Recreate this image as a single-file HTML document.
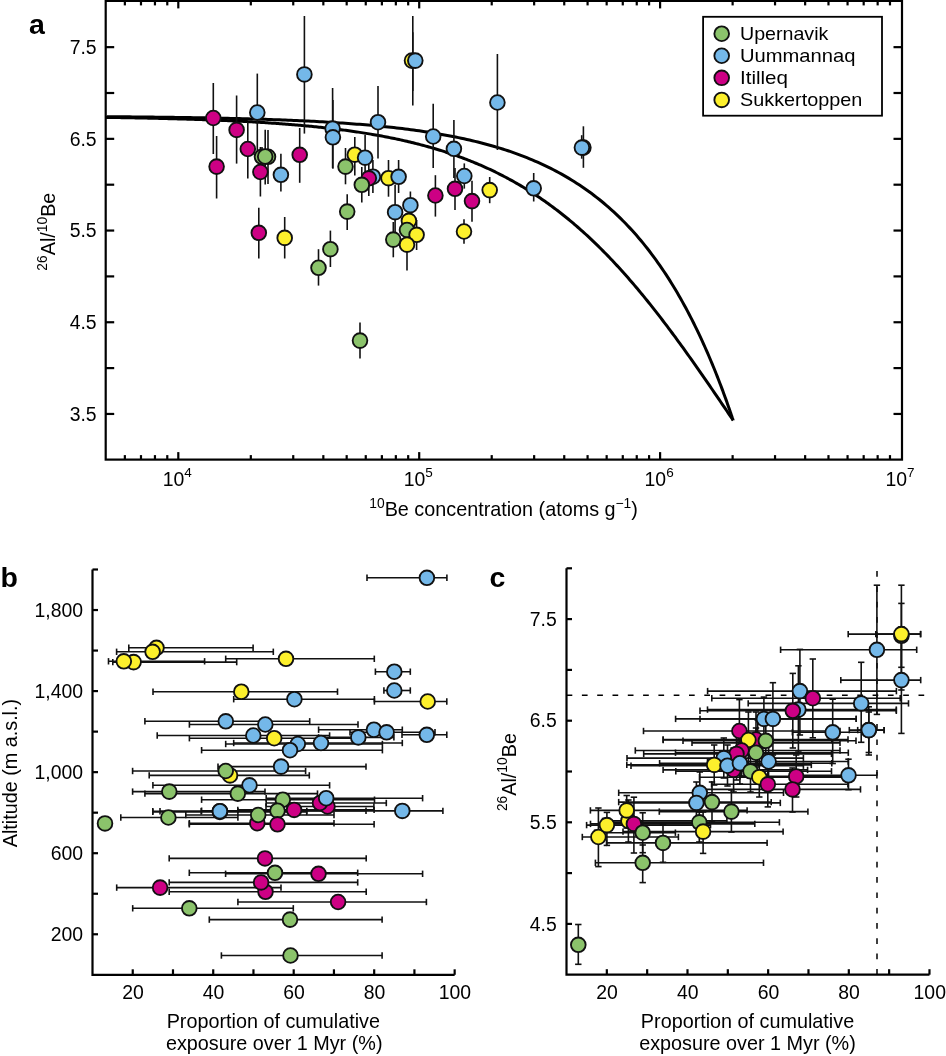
<!DOCTYPE html>
<html><head><meta charset="utf-8"><style>
html,body{margin:0;padding:0;background:#fff;}
svg{display:block;font-family:"Liberation Sans", sans-serif;will-change:transform;}
</style></head><body>
<svg width="946" height="1056" viewBox="0 0 946 1056" fill="#000">
<rect width="946" height="1056" fill="#fff"/>
<path d="M106.67,116.68 L109.56,116.70 L112.44,116.72 L115.33,116.74 L118.22,116.76 L121.10,116.79 L123.99,116.81 L126.88,116.84 L129.76,116.86 L132.65,116.89 L135.53,116.91 L138.42,116.94 L141.31,116.97 L144.19,117.00 L147.08,117.03 L149.96,117.06 L152.85,117.09 L155.73,117.13 L158.62,117.16 L161.50,117.19 L164.39,117.23 L167.27,117.27 L170.16,117.30 L173.04,117.34 L175.92,117.38 L178.81,117.42 L181.69,117.46 L184.57,117.51 L187.46,117.55 L190.34,117.60 L193.22,117.64 L196.11,117.69 L198.99,117.74 L201.87,117.79 L204.75,117.84 L207.63,117.90 L210.51,117.95 L213.39,118.01 L216.28,118.07 L219.16,118.13 L222.04,118.19 L224.92,118.25 L227.79,118.32 L230.67,118.38 L233.55,118.45 L236.43,118.52 L239.31,118.59 L242.19,118.67 L245.06,118.74 L247.94,118.82 L250.82,118.90 L253.69,118.99 L256.57,119.07 L259.44,119.16 L262.32,119.25 L265.19,119.34 L268.07,119.44 L270.94,119.54 L273.81,119.64 L276.69,119.74 L279.56,119.85 L282.43,119.96 L285.30,120.07 L288.17,120.18 L291.04,120.30 L293.91,120.42 L296.78,120.55 L299.65,120.68 L302.52,120.81 L305.38,120.94 L308.25,121.08 L311.11,121.23 L313.98,121.37 L316.84,121.53 L319.71,121.68 L322.57,121.84 L325.43,122.00 L328.29,122.17 L331.15,122.35 L334.01,122.52 L336.87,122.71 L339.73,122.90 L342.58,123.09 L345.44,123.29 L348.29,123.49 L351.15,123.70 L354.00,123.91 L356.85,124.14 L359.70,124.36 L362.55,124.59 L365.40,124.83 L368.24,125.08 L371.09,125.33 L373.93,125.59 L376.78,125.86 L379.62,126.13 L382.46,126.41 L385.30,126.70 L388.13,127.00 L390.97,127.30 L393.80,127.61 L396.64,127.94 L399.47,128.27 L402.30,128.60 L405.13,128.95 L407.95,129.31 L410.78,129.67 L413.60,130.05 L416.42,130.44 L419.24,130.83 L422.05,131.24 L424.87,131.66 L427.68,132.09 L430.49,132.53 L433.30,132.98 L436.11,133.44 L438.91,133.92 L441.71,134.41 L444.51,134.91 L447.30,135.42 L450.10,135.95 L452.89,136.49 L455.68,137.05 L458.46,137.62 L461.24,138.21 L464.02,138.81 L466.80,139.42 L469.57,140.05 L472.34,140.70 L475.11,141.37 L477.87,142.05 L480.63,142.75 L483.38,143.46 L486.14,144.20 L488.88,144.95 L491.63,145.72 L494.37,146.51 L497.10,147.33 L499.84,148.16 L502.56,149.01 L505.29,149.88 L508.00,150.78 L510.72,151.70 L513.43,152.63 L516.13,153.60 L518.83,154.58 L521.52,155.59 L524.21,156.63 L526.89,157.69 L529.57,158.77 L532.24,159.88 L534.90,161.01 L537.56,162.18 L540.21,163.37 L542.86,164.58 L545.50,165.83 L548.13,167.10 L550.76,168.41 L553.37,169.74 L555.99,171.10 L558.59,172.50 L561.18,173.92 L563.77,175.38 L566.35,176.86 L568.92,178.38 L571.48,179.94 L574.04,181.52 L576.58,183.14 L579.12,184.79 L581.64,186.48 L584.16,188.20 L586.66,189.96 L589.16,191.76 L591.65,193.58 L594.12,195.45 L596.58,197.35 L599.04,199.29 L601.48,201.26 L603.90,203.27 L606.32,205.32 L608.73,207.41 L611.12,209.53 L613.49,211.69 L615.86,213.89 L618.21,216.13 L620.55,218.40 L622.87,220.71 L625.18,223.06 L627.47,225.45 L629.75,227.87 L632.01,230.33 L634.26,232.83 L636.49,235.36 L638.70,237.92 L640.89,240.53 L643.07,243.16 L645.23,245.83 L647.37,248.54 L649.50,251.27 L651.60,254.04 L653.68,256.84 L655.75,259.66 L657.79,262.52 L659.81,265.40 L661.82,268.31 L663.80,271.24 L665.75,274.20 L667.69,277.18 L669.60,280.18 L671.49,283.20 L673.36,286.24 L675.20,289.29 L677.01,292.35 L678.81,295.43 L680.57,298.51 L682.31,301.61 L684.03,304.70 L685.71,307.81 L687.37,310.91 L689.00,314.01 L690.61,317.10 L692.18,320.19 L693.73,323.27 L695.25,326.34 L696.74,329.39 L698.19,332.43 L699.62,335.44 L701.02,338.43 L702.39,341.40 L703.72,344.34 L705.03,347.25 L706.30,350.12 L707.54,352.96 L708.75,355.75 L709.92,358.51 L711.07,361.22 L712.18,363.88 L713.25,366.49 L714.30,369.05 L715.31,371.56 L716.29,374.00 L717.24,376.39 L718.15,378.72 L719.03,380.99 L719.88,383.19 L720.69,385.32 L721.48,387.39 L722.23,389.38 L722.95,391.31 L723.63,393.17 L724.29,394.95 L724.92,396.67 L725.51,398.31 L726.08,399.87 L726.61,401.37 L727.12,402.79 L727.60,404.15 L728.05,405.43 L728.48,406.64 L728.88,407.78 L729.25,408.86 L729.60,409.87 L729.93,410.81 L730.23,411.69 L730.52,412.51 L730.78,413.28 L731.02,413.98 L731.24,414.63 L731.44,415.23 L731.63,415.79 L731.80,416.29 L731.96,416.75 L732.10,417.16 L732.22,417.54 L732.34,417.88 L732.44,418.19 L732.53,418.46 L732.61,418.71 L732.69,418.92 L732.75,419.12 L732.81,419.28 L732.86,419.43 L732.90,419.56 L732.94,419.67 L732.97,419.77 L733.00,419.86 L733.02,419.93 L733.04,419.99 L733.06,420.04 L733.07,420.08 L733.09,420.12 L733.10,420.15 L733.11,420.18 L733.11,420.20 L733.12,420.21 L733.12,420.23 L733.13,420.24 L733.13,420.25 L733.13,420.26 L733.13,420.26 L733.14,420.27 L733.14,420.27 L733.14,420.27 L733.14,420.27 L733.14,420.28 L733.14,420.28 L733.14,420.28 L733.14,420.28 L733.14,420.28 L733.14,420.28 L733.14,420.28 L733.14,420.28 L733.14,420.28 L733.14,420.28 L733.14,420.28 L733.14,420.28 L733.14,420.28 L733.14,420.28 L733.14,420.28 L733.14,420.28 L733.14,420.28 L733.14,420.28 L733.14,420.28 L733.14,420.28 L733.14,420.28 L733.14,420.28" fill="none" stroke="#000" stroke-width="3.0"/>
<path d="M105.78,117.41 L107.35,117.43 L108.92,117.46 L110.49,117.48 L112.06,117.50 L113.62,117.53 L115.19,117.55 L116.76,117.57 L118.33,117.60 L119.90,117.62 L121.47,117.65 L123.03,117.68 L124.60,117.70 L126.17,117.73 L127.74,117.76 L129.31,117.78 L130.88,117.81 L132.44,117.84 L134.01,117.87 L135.58,117.90 L137.15,117.93 L138.72,117.96 L140.29,117.99 L141.85,118.02 L143.42,118.05 L144.99,118.08 L146.56,118.12 L148.13,118.15 L149.70,118.18 L151.27,118.22 L152.83,118.25 L154.40,118.29 L155.97,118.32 L157.54,118.36 L159.11,118.39 L160.68,118.43 L162.24,118.47 L163.81,118.51 L165.38,118.55 L166.95,118.59 L168.52,118.63 L170.09,118.67 L171.65,118.71 L173.22,118.75 L174.79,118.79 L176.36,118.84 L177.93,118.88 L179.50,118.92 L181.06,118.97 L182.63,119.01 L184.20,119.06 L185.77,119.11 L187.34,119.16 L188.91,119.20 L190.48,119.25 L192.04,119.30 L193.61,119.35 L195.18,119.41 L196.75,119.46 L198.32,119.51 L199.89,119.57 L201.45,119.62 L203.02,119.68 L204.59,119.73 L206.16,119.79 L207.73,119.85 L209.30,119.91 L210.86,119.97 L212.43,120.03 L214.00,120.09 L215.57,120.15 L217.14,120.21 L218.71,120.28 L220.27,120.34 L221.84,120.41 L223.41,120.48 L224.98,120.54 L226.55,120.61 L228.12,120.68 L229.69,120.76 L231.25,120.83 L232.82,120.90 L234.39,120.98 L235.96,121.05 L237.53,121.13 L239.10,121.21 L240.66,121.29 L242.23,121.37 L243.80,121.45 L245.37,121.53 L246.94,121.61 L248.51,121.70 L250.07,121.78 L251.64,121.87 L253.21,121.96 L254.78,122.05 L256.35,122.14 L257.92,122.24 L259.48,122.33 L261.05,122.43 L262.62,122.52 L264.19,122.62 L265.76,122.72 L267.33,122.82 L268.89,122.93 L270.46,123.03 L272.03,123.14 L273.60,123.24 L275.17,123.35 L276.74,123.46 L278.31,123.58 L279.87,123.69 L281.44,123.81 L283.01,123.92 L284.58,124.04 L286.15,124.17 L287.72,124.29 L289.28,124.41 L290.85,124.54 L292.42,124.67 L293.99,124.80 L295.56,124.93 L297.13,125.06 L298.69,125.20 L300.26,125.34 L301.83,125.48 L303.40,125.62 L304.97,125.76 L306.54,125.91 L308.10,126.06 L309.67,126.21 L311.24,126.36 L312.81,126.52 L314.38,126.67 L315.95,126.83 L317.52,126.99 L319.08,127.16 L320.65,127.33 L322.22,127.49 L323.79,127.67 L325.36,127.84 L326.93,128.02 L328.49,128.20 L330.06,128.38 L331.63,128.56 L333.20,128.75 L334.77,128.94 L336.34,129.13 L337.90,129.32 L339.47,129.52 L341.04,129.72 L342.61,129.93 L344.18,130.13 L345.75,130.34 L347.31,130.56 L348.88,130.77 L350.45,130.99 L352.02,131.21 L353.59,131.44 L355.16,131.67 L356.73,131.90 L358.29,132.13 L359.86,132.37 L361.43,132.61 L363.00,132.86 L364.57,133.11 L366.14,133.36 L367.70,133.61 L369.27,133.87 L370.84,134.14 L372.41,134.40 L373.98,134.67 L375.55,134.95 L377.11,135.23 L378.68,135.51 L380.25,135.80 L381.82,136.09 L383.39,136.38 L384.96,136.68 L386.52,136.98 L388.09,137.29 L389.66,137.60 L391.23,137.92 L392.80,138.24 L394.37,138.56 L395.93,138.89 L397.50,139.22 L399.07,139.56 L400.64,139.91 L402.21,140.25 L403.78,140.61 L405.35,140.96 L406.91,141.33 L408.48,141.69 L410.05,142.07 L411.62,142.45 L413.19,142.83 L414.76,143.22 L416.32,143.61 L417.89,144.01 L419.46,144.41 L421.03,144.83 L422.60,145.24 L424.17,145.66 L425.73,146.09 L427.30,146.52 L428.87,146.96 L430.44,147.41 L432.01,147.86 L433.58,148.31 L435.14,148.78 L436.71,149.25 L438.28,149.72 L439.85,150.21 L441.42,150.69 L442.99,151.19 L444.56,151.69 L446.12,152.20 L447.69,152.72 L449.26,153.24 L450.83,153.77 L452.40,154.30 L453.97,154.85 L455.53,155.40 L457.10,155.95 L458.67,156.52 L460.24,157.09 L461.81,157.67 L463.38,158.26 L464.94,158.85 L466.51,159.46 L468.08,160.07 L469.65,160.69 L471.22,161.31 L472.79,161.95 L474.35,162.59 L475.92,163.24 L477.49,163.90 L479.06,164.57 L480.63,165.24 L482.20,165.93 L483.77,166.62 L485.33,167.32 L486.90,168.03 L488.47,168.75 L490.04,169.48 L491.61,170.22 L493.18,170.97 L494.74,171.72 L496.31,172.49 L497.88,173.27 L499.45,174.05 L501.02,174.84 L502.59,175.65 L504.15,176.46 L505.72,177.29 L507.29,178.12 L508.86,178.96 L510.43,179.82 L512.00,180.68 L513.56,181.56 L515.13,182.44 L516.70,183.34 L518.27,184.24 L519.84,185.16 L521.41,186.09 L522.97,187.02 L524.54,187.97 L526.11,188.93 L527.68,189.90 L529.25,190.89 L530.82,191.88 L532.39,192.88 L533.95,193.90 L535.52,194.93 L537.09,195.97 L538.66,197.02 L540.23,198.08 L541.80,199.15 L543.36,200.24 L544.93,201.34 L546.50,202.45 L548.07,203.57 L549.64,204.70 L551.21,205.85 L552.77,207.01 L554.34,208.18 L555.91,209.36 L557.48,210.56 L559.05,211.76 L560.62,212.98 L562.18,214.22 L563.75,215.46 L565.32,216.72 L566.89,217.99 L568.46,219.28 L570.03,220.57 L571.60,221.88 L573.16,223.21 L574.73,224.54 L576.30,225.89 L577.87,227.25 L579.44,228.63 L581.01,230.02 L582.57,231.42 L584.14,232.83 L585.71,234.26 L587.28,235.70 L588.85,237.16 L590.42,238.63 L591.98,240.11 L593.55,241.60 L595.12,243.11 L596.69,244.63 L598.26,246.17 L599.83,247.72 L601.39,249.28 L602.96,250.85 L604.53,252.44 L606.10,254.04 L607.67,255.66 L609.24,257.29 L610.81,258.93 L612.37,260.59 L613.94,262.25 L615.51,263.94 L617.08,265.63 L618.65,267.34 L620.22,269.06 L621.78,270.79 L623.35,272.54 L624.92,274.30 L626.49,276.07 L628.06,277.86 L629.63,279.66 L631.19,281.47 L632.76,283.30 L634.33,285.13 L635.90,286.98 L637.47,288.84 L639.04,290.72 L640.60,292.60 L642.17,294.50 L643.74,296.41 L645.31,298.34 L646.88,300.27 L648.45,302.22 L650.01,304.18 L651.58,306.14 L653.15,308.13 L654.72,310.12 L656.29,312.12 L657.86,314.14 L659.43,316.16 L660.99,318.20 L662.56,320.24 L664.13,322.30 L665.70,324.37 L667.27,326.45 L668.84,328.53 L670.40,330.63 L671.97,332.74 L673.54,334.85 L675.11,336.98 L676.68,339.11 L678.25,341.26 L679.81,343.41 L681.38,345.57 L682.95,347.74 L684.52,349.92 L686.09,352.11 L687.66,354.30 L689.22,356.50 L690.79,358.71 L692.36,360.92 L693.93,363.15 L695.50,365.38 L697.07,367.61 L698.64,369.85 L700.20,372.10 L701.77,374.36 L703.34,376.61 L704.91,378.88 L706.48,381.15 L708.05,383.42 L709.61,385.70 L711.18,387.99 L712.75,390.27 L714.32,392.57 L715.89,394.86 L717.46,397.16 L719.02,399.46 L720.59,401.77 L722.16,404.08 L723.73,406.39 L725.30,408.70 L726.87,411.01 L728.43,413.33 L730.00,415.64 L731.57,417.96 L733.14,420.28" fill="none" stroke="#000" stroke-width="3.0"/>
<line x1="213.30" y1="83.00" x2="213.30" y2="154.00" stroke="#111" stroke-width="1.6"/>
<line x1="216.60" y1="136.00" x2="216.60" y2="198.50" stroke="#111" stroke-width="1.6"/>
<line x1="236.60" y1="95.50" x2="236.60" y2="163.60" stroke="#111" stroke-width="1.6"/>
<line x1="257.30" y1="73.60" x2="257.30" y2="151.40" stroke="#111" stroke-width="1.6"/>
<line x1="247.80" y1="122.00" x2="247.80" y2="178.40" stroke="#111" stroke-width="1.6"/>
<line x1="262.00" y1="147.00" x2="262.00" y2="170.00" stroke="#111" stroke-width="1.6"/>
<line x1="268.00" y1="130.00" x2="268.00" y2="184.00" stroke="#111" stroke-width="1.6"/>
<line x1="265.20" y1="129.80" x2="265.20" y2="184.40" stroke="#111" stroke-width="1.6"/>
<line x1="260.40" y1="147.00" x2="260.40" y2="196.50" stroke="#111" stroke-width="1.6"/>
<line x1="280.90" y1="153.80" x2="280.90" y2="191.60" stroke="#111" stroke-width="1.6"/>
<line x1="299.70" y1="128.00" x2="299.70" y2="182.80" stroke="#111" stroke-width="1.6"/>
<line x1="304.40" y1="16.00" x2="304.40" y2="133.60" stroke="#111" stroke-width="1.6"/>
<line x1="332.60" y1="88.00" x2="332.60" y2="168.00" stroke="#111" stroke-width="1.6"/>
<line x1="332.90" y1="100.00" x2="332.90" y2="168.80" stroke="#111" stroke-width="1.6"/>
<line x1="378.00" y1="85.90" x2="378.00" y2="158.40" stroke="#111" stroke-width="1.6"/>
<line x1="345.50" y1="148.00" x2="345.50" y2="184.30" stroke="#111" stroke-width="1.6"/>
<line x1="354.80" y1="137.00" x2="354.80" y2="175.40" stroke="#111" stroke-width="1.6"/>
<line x1="365.10" y1="134.70" x2="365.10" y2="180.00" stroke="#111" stroke-width="1.6"/>
<line x1="372.90" y1="160.00" x2="372.90" y2="193.00" stroke="#111" stroke-width="1.6"/>
<line x1="368.80" y1="160.00" x2="368.80" y2="196.00" stroke="#111" stroke-width="1.6"/>
<line x1="361.80" y1="167.00" x2="361.80" y2="202.60" stroke="#111" stroke-width="1.6"/>
<line x1="388.50" y1="160.00" x2="388.50" y2="196.70" stroke="#111" stroke-width="1.6"/>
<line x1="398.60" y1="160.00" x2="398.60" y2="193.00" stroke="#111" stroke-width="1.6"/>
<line x1="412.80" y1="16.10" x2="412.80" y2="105.60" stroke="#111" stroke-width="1.6"/>
<line x1="412.80" y1="32.20" x2="412.80" y2="90.90" stroke="#111" stroke-width="1.6"/>
<line x1="497.40" y1="54.00" x2="497.40" y2="150.00" stroke="#111" stroke-width="1.6"/>
<line x1="433.20" y1="103.70" x2="433.20" y2="168.00" stroke="#111" stroke-width="1.6"/>
<line x1="453.90" y1="120.00" x2="453.90" y2="178.00" stroke="#111" stroke-width="1.6"/>
<line x1="435.40" y1="175.20" x2="435.40" y2="216.60" stroke="#111" stroke-width="1.6"/>
<line x1="455.00" y1="168.00" x2="455.00" y2="210.00" stroke="#111" stroke-width="1.6"/>
<line x1="464.30" y1="163.40" x2="464.30" y2="188.60" stroke="#111" stroke-width="1.6"/>
<line x1="472.00" y1="180.80" x2="472.00" y2="221.80" stroke="#111" stroke-width="1.6"/>
<line x1="489.70" y1="177.00" x2="489.70" y2="203.20" stroke="#111" stroke-width="1.6"/>
<line x1="464.00" y1="219.20" x2="464.00" y2="243.80" stroke="#111" stroke-width="1.6"/>
<line x1="533.70" y1="173.00" x2="533.70" y2="201.50" stroke="#111" stroke-width="1.6"/>
<line x1="583.40" y1="126.30" x2="583.40" y2="167.80" stroke="#111" stroke-width="1.6"/>
<line x1="581.70" y1="135.20" x2="581.70" y2="158.70" stroke="#111" stroke-width="1.6"/>
<line x1="258.80" y1="207.80" x2="258.80" y2="258.50" stroke="#111" stroke-width="1.6"/>
<line x1="284.70" y1="217.00" x2="284.70" y2="258.50" stroke="#111" stroke-width="1.6"/>
<line x1="318.50" y1="249.20" x2="318.50" y2="285.60" stroke="#111" stroke-width="1.6"/>
<line x1="330.40" y1="230.60" x2="330.40" y2="267.00" stroke="#111" stroke-width="1.6"/>
<line x1="347.20" y1="194.30" x2="347.20" y2="230.00" stroke="#111" stroke-width="1.6"/>
<line x1="395.10" y1="184.80" x2="395.10" y2="232.20" stroke="#111" stroke-width="1.6"/>
<line x1="410.40" y1="191.50" x2="410.40" y2="219.00" stroke="#111" stroke-width="1.6"/>
<line x1="408.90" y1="205.00" x2="408.90" y2="236.00" stroke="#111" stroke-width="1.6"/>
<line x1="407.00" y1="215.00" x2="407.00" y2="245.00" stroke="#111" stroke-width="1.6"/>
<line x1="416.60" y1="220.00" x2="416.60" y2="250.00" stroke="#111" stroke-width="1.6"/>
<line x1="393.30" y1="222.00" x2="393.30" y2="257.30" stroke="#111" stroke-width="1.6"/>
<line x1="407.00" y1="225.00" x2="407.00" y2="270.60" stroke="#111" stroke-width="1.6"/>
<line x1="360.00" y1="322.50" x2="360.00" y2="358.60" stroke="#111" stroke-width="1.6"/>
<circle cx="213.30" cy="118.00" r="7.35" fill="#cd0084" stroke="#111" stroke-width="1.85"/>
<circle cx="216.60" cy="166.60" r="7.35" fill="#cd0084" stroke="#111" stroke-width="1.85"/>
<circle cx="236.60" cy="129.90" r="7.35" fill="#cd0084" stroke="#111" stroke-width="1.85"/>
<circle cx="257.30" cy="112.50" r="7.35" fill="#74b8e9" stroke="#111" stroke-width="1.85"/>
<circle cx="247.80" cy="149.00" r="7.35" fill="#cd0084" stroke="#111" stroke-width="1.85"/>
<circle cx="262.00" cy="156.80" r="7.35" fill="#8bc36b" stroke="#111" stroke-width="1.85"/>
<circle cx="268.00" cy="156.80" r="7.35" fill="#8bc36b" stroke="#111" stroke-width="1.85"/>
<circle cx="265.20" cy="156.50" r="7.35" fill="#8bc36b" stroke="#111" stroke-width="1.85"/>
<circle cx="260.40" cy="172.00" r="7.35" fill="#cd0084" stroke="#111" stroke-width="1.85"/>
<circle cx="280.90" cy="174.80" r="7.35" fill="#74b8e9" stroke="#111" stroke-width="1.85"/>
<circle cx="299.70" cy="154.80" r="7.35" fill="#cd0084" stroke="#111" stroke-width="1.85"/>
<circle cx="304.40" cy="74.40" r="7.35" fill="#74b8e9" stroke="#111" stroke-width="1.85"/>
<circle cx="332.60" cy="128.60" r="7.35" fill="#74b8e9" stroke="#111" stroke-width="1.85"/>
<circle cx="332.90" cy="137.30" r="7.35" fill="#74b8e9" stroke="#111" stroke-width="1.85"/>
<circle cx="378.00" cy="122.20" r="7.35" fill="#74b8e9" stroke="#111" stroke-width="1.85"/>
<circle cx="345.50" cy="166.60" r="7.35" fill="#8bc36b" stroke="#111" stroke-width="1.85"/>
<circle cx="354.80" cy="154.70" r="7.35" fill="#fdf02c" stroke="#111" stroke-width="1.85"/>
<circle cx="365.10" cy="157.70" r="7.35" fill="#74b8e9" stroke="#111" stroke-width="1.85"/>
<circle cx="372.90" cy="176.70" r="7.35" fill="#74b8e9" stroke="#111" stroke-width="1.85"/>
<circle cx="368.80" cy="178.30" r="7.35" fill="#cd0084" stroke="#111" stroke-width="1.85"/>
<circle cx="361.80" cy="184.80" r="7.35" fill="#8bc36b" stroke="#111" stroke-width="1.85"/>
<circle cx="388.50" cy="178.20" r="7.35" fill="#fdf02c" stroke="#111" stroke-width="1.85"/>
<circle cx="398.60" cy="176.80" r="7.35" fill="#74b8e9" stroke="#111" stroke-width="1.85"/>
<circle cx="412.00" cy="60.60" r="7.35" fill="#fdf02c" stroke="#111" stroke-width="1.85"/>
<circle cx="415.30" cy="60.60" r="7.35" fill="#74b8e9" stroke="#111" stroke-width="1.85"/>
<circle cx="497.40" cy="102.50" r="7.35" fill="#74b8e9" stroke="#111" stroke-width="1.85"/>
<circle cx="433.20" cy="136.50" r="7.35" fill="#74b8e9" stroke="#111" stroke-width="1.85"/>
<circle cx="453.90" cy="148.80" r="7.35" fill="#74b8e9" stroke="#111" stroke-width="1.85"/>
<circle cx="435.40" cy="195.50" r="7.35" fill="#cd0084" stroke="#111" stroke-width="1.85"/>
<circle cx="455.00" cy="188.80" r="7.35" fill="#cd0084" stroke="#111" stroke-width="1.85"/>
<circle cx="464.30" cy="176.00" r="7.35" fill="#74b8e9" stroke="#111" stroke-width="1.85"/>
<circle cx="472.00" cy="201.10" r="7.35" fill="#cd0084" stroke="#111" stroke-width="1.85"/>
<circle cx="489.70" cy="190.10" r="7.35" fill="#fdf02c" stroke="#111" stroke-width="1.85"/>
<circle cx="464.00" cy="231.50" r="7.35" fill="#fdf02c" stroke="#111" stroke-width="1.85"/>
<circle cx="533.70" cy="188.30" r="7.35" fill="#74b8e9" stroke="#111" stroke-width="1.85"/>
<circle cx="583.40" cy="147.60" r="7.35" fill="#74b8e9" stroke="#111" stroke-width="1.85"/>
<circle cx="581.90" cy="147.60" r="7.35" fill="#74b8e9" stroke="#111" stroke-width="1.85"/>
<circle cx="258.80" cy="232.80" r="7.35" fill="#cd0084" stroke="#111" stroke-width="1.85"/>
<circle cx="284.70" cy="237.90" r="7.35" fill="#fdf02c" stroke="#111" stroke-width="1.85"/>
<circle cx="318.50" cy="267.80" r="7.35" fill="#8bc36b" stroke="#111" stroke-width="1.85"/>
<circle cx="330.40" cy="249.20" r="7.35" fill="#8bc36b" stroke="#111" stroke-width="1.85"/>
<circle cx="347.20" cy="211.60" r="7.35" fill="#8bc36b" stroke="#111" stroke-width="1.85"/>
<circle cx="395.10" cy="212.20" r="7.35" fill="#74b8e9" stroke="#111" stroke-width="1.85"/>
<circle cx="410.40" cy="205.20" r="7.35" fill="#74b8e9" stroke="#111" stroke-width="1.85"/>
<circle cx="408.90" cy="220.80" r="7.35" fill="#fdf02c" stroke="#111" stroke-width="1.85"/>
<circle cx="407.00" cy="230.00" r="7.35" fill="#8bc36b" stroke="#111" stroke-width="1.85"/>
<circle cx="416.60" cy="234.80" r="7.35" fill="#fdf02c" stroke="#111" stroke-width="1.85"/>
<circle cx="393.30" cy="239.60" r="7.35" fill="#8bc36b" stroke="#111" stroke-width="1.85"/>
<circle cx="407.00" cy="244.70" r="7.35" fill="#fdf02c" stroke="#111" stroke-width="1.85"/>
<circle cx="360.00" cy="340.60" r="7.35" fill="#8bc36b" stroke="#111" stroke-width="1.85"/>
<rect x="105.7" y="0.9" width="796.3" height="458.70000000000005" fill="none" stroke="#000" stroke-width="2.2"/>
<line x1="105.70" y1="413.95" x2="114.20" y2="413.95" stroke="#000" stroke-width="2.2"/>
<line x1="902.00" y1="413.95" x2="893.50" y2="413.95" stroke="#000" stroke-width="2.2"/>
<line x1="105.70" y1="368.10" x2="114.20" y2="368.10" stroke="#000" stroke-width="2.2"/>
<line x1="902.00" y1="368.10" x2="893.50" y2="368.10" stroke="#000" stroke-width="2.2"/>
<line x1="105.70" y1="322.25" x2="114.20" y2="322.25" stroke="#000" stroke-width="2.2"/>
<line x1="902.00" y1="322.25" x2="893.50" y2="322.25" stroke="#000" stroke-width="2.2"/>
<line x1="105.70" y1="276.40" x2="114.20" y2="276.40" stroke="#000" stroke-width="2.2"/>
<line x1="902.00" y1="276.40" x2="893.50" y2="276.40" stroke="#000" stroke-width="2.2"/>
<line x1="105.70" y1="230.55" x2="114.20" y2="230.55" stroke="#000" stroke-width="2.2"/>
<line x1="902.00" y1="230.55" x2="893.50" y2="230.55" stroke="#000" stroke-width="2.2"/>
<line x1="105.70" y1="184.70" x2="114.20" y2="184.70" stroke="#000" stroke-width="2.2"/>
<line x1="902.00" y1="184.70" x2="893.50" y2="184.70" stroke="#000" stroke-width="2.2"/>
<line x1="105.70" y1="138.85" x2="114.20" y2="138.85" stroke="#000" stroke-width="2.2"/>
<line x1="902.00" y1="138.85" x2="893.50" y2="138.85" stroke="#000" stroke-width="2.2"/>
<line x1="105.70" y1="93.00" x2="114.20" y2="93.00" stroke="#000" stroke-width="2.2"/>
<line x1="902.00" y1="93.00" x2="893.50" y2="93.00" stroke="#000" stroke-width="2.2"/>
<line x1="105.70" y1="47.15" x2="114.20" y2="47.15" stroke="#000" stroke-width="2.2"/>
<line x1="902.00" y1="47.15" x2="893.50" y2="47.15" stroke="#000" stroke-width="2.2"/>
<line x1="124.86" y1="459.60" x2="124.86" y2="455.10" stroke="#000" stroke-width="2.2"/>
<line x1="124.86" y1="0.90" x2="124.86" y2="5.40" stroke="#000" stroke-width="2.2"/>
<line x1="140.98" y1="459.60" x2="140.98" y2="455.10" stroke="#000" stroke-width="2.2"/>
<line x1="140.98" y1="0.90" x2="140.98" y2="5.40" stroke="#000" stroke-width="2.2"/>
<line x1="154.95" y1="459.60" x2="154.95" y2="455.10" stroke="#000" stroke-width="2.2"/>
<line x1="154.95" y1="0.90" x2="154.95" y2="5.40" stroke="#000" stroke-width="2.2"/>
<line x1="167.28" y1="459.60" x2="167.28" y2="455.10" stroke="#000" stroke-width="2.2"/>
<line x1="167.28" y1="0.90" x2="167.28" y2="5.40" stroke="#000" stroke-width="2.2"/>
<line x1="178.30" y1="459.60" x2="178.30" y2="452.10" stroke="#000" stroke-width="2.2"/>
<line x1="178.30" y1="0.90" x2="178.30" y2="8.40" stroke="#000" stroke-width="2.2"/>
<line x1="250.82" y1="459.60" x2="250.82" y2="455.10" stroke="#000" stroke-width="2.2"/>
<line x1="250.82" y1="0.90" x2="250.82" y2="5.40" stroke="#000" stroke-width="2.2"/>
<line x1="293.24" y1="459.60" x2="293.24" y2="455.10" stroke="#000" stroke-width="2.2"/>
<line x1="293.24" y1="0.90" x2="293.24" y2="5.40" stroke="#000" stroke-width="2.2"/>
<line x1="323.34" y1="459.60" x2="323.34" y2="455.10" stroke="#000" stroke-width="2.2"/>
<line x1="323.34" y1="0.90" x2="323.34" y2="5.40" stroke="#000" stroke-width="2.2"/>
<line x1="346.68" y1="459.60" x2="346.68" y2="455.10" stroke="#000" stroke-width="2.2"/>
<line x1="346.68" y1="0.90" x2="346.68" y2="5.40" stroke="#000" stroke-width="2.2"/>
<line x1="365.76" y1="459.60" x2="365.76" y2="455.10" stroke="#000" stroke-width="2.2"/>
<line x1="365.76" y1="0.90" x2="365.76" y2="5.40" stroke="#000" stroke-width="2.2"/>
<line x1="381.88" y1="459.60" x2="381.88" y2="455.10" stroke="#000" stroke-width="2.2"/>
<line x1="381.88" y1="0.90" x2="381.88" y2="5.40" stroke="#000" stroke-width="2.2"/>
<line x1="395.85" y1="459.60" x2="395.85" y2="455.10" stroke="#000" stroke-width="2.2"/>
<line x1="395.85" y1="0.90" x2="395.85" y2="5.40" stroke="#000" stroke-width="2.2"/>
<line x1="408.18" y1="459.60" x2="408.18" y2="455.10" stroke="#000" stroke-width="2.2"/>
<line x1="408.18" y1="0.90" x2="408.18" y2="5.40" stroke="#000" stroke-width="2.2"/>
<line x1="419.20" y1="459.60" x2="419.20" y2="452.10" stroke="#000" stroke-width="2.2"/>
<line x1="419.20" y1="0.90" x2="419.20" y2="8.40" stroke="#000" stroke-width="2.2"/>
<line x1="491.72" y1="459.60" x2="491.72" y2="455.10" stroke="#000" stroke-width="2.2"/>
<line x1="491.72" y1="0.90" x2="491.72" y2="5.40" stroke="#000" stroke-width="2.2"/>
<line x1="534.14" y1="459.60" x2="534.14" y2="455.10" stroke="#000" stroke-width="2.2"/>
<line x1="534.14" y1="0.90" x2="534.14" y2="5.40" stroke="#000" stroke-width="2.2"/>
<line x1="564.24" y1="459.60" x2="564.24" y2="455.10" stroke="#000" stroke-width="2.2"/>
<line x1="564.24" y1="0.90" x2="564.24" y2="5.40" stroke="#000" stroke-width="2.2"/>
<line x1="587.58" y1="459.60" x2="587.58" y2="455.10" stroke="#000" stroke-width="2.2"/>
<line x1="587.58" y1="0.90" x2="587.58" y2="5.40" stroke="#000" stroke-width="2.2"/>
<line x1="606.66" y1="459.60" x2="606.66" y2="455.10" stroke="#000" stroke-width="2.2"/>
<line x1="606.66" y1="0.90" x2="606.66" y2="5.40" stroke="#000" stroke-width="2.2"/>
<line x1="622.78" y1="459.60" x2="622.78" y2="455.10" stroke="#000" stroke-width="2.2"/>
<line x1="622.78" y1="0.90" x2="622.78" y2="5.40" stroke="#000" stroke-width="2.2"/>
<line x1="636.75" y1="459.60" x2="636.75" y2="455.10" stroke="#000" stroke-width="2.2"/>
<line x1="636.75" y1="0.90" x2="636.75" y2="5.40" stroke="#000" stroke-width="2.2"/>
<line x1="649.08" y1="459.60" x2="649.08" y2="455.10" stroke="#000" stroke-width="2.2"/>
<line x1="649.08" y1="0.90" x2="649.08" y2="5.40" stroke="#000" stroke-width="2.2"/>
<line x1="660.10" y1="459.60" x2="660.10" y2="452.10" stroke="#000" stroke-width="2.2"/>
<line x1="660.10" y1="0.90" x2="660.10" y2="8.40" stroke="#000" stroke-width="2.2"/>
<line x1="732.62" y1="459.60" x2="732.62" y2="455.10" stroke="#000" stroke-width="2.2"/>
<line x1="732.62" y1="0.90" x2="732.62" y2="5.40" stroke="#000" stroke-width="2.2"/>
<line x1="775.04" y1="459.60" x2="775.04" y2="455.10" stroke="#000" stroke-width="2.2"/>
<line x1="775.04" y1="0.90" x2="775.04" y2="5.40" stroke="#000" stroke-width="2.2"/>
<line x1="805.14" y1="459.60" x2="805.14" y2="455.10" stroke="#000" stroke-width="2.2"/>
<line x1="805.14" y1="0.90" x2="805.14" y2="5.40" stroke="#000" stroke-width="2.2"/>
<line x1="828.48" y1="459.60" x2="828.48" y2="455.10" stroke="#000" stroke-width="2.2"/>
<line x1="828.48" y1="0.90" x2="828.48" y2="5.40" stroke="#000" stroke-width="2.2"/>
<line x1="847.56" y1="459.60" x2="847.56" y2="455.10" stroke="#000" stroke-width="2.2"/>
<line x1="847.56" y1="0.90" x2="847.56" y2="5.40" stroke="#000" stroke-width="2.2"/>
<line x1="863.68" y1="459.60" x2="863.68" y2="455.10" stroke="#000" stroke-width="2.2"/>
<line x1="863.68" y1="0.90" x2="863.68" y2="5.40" stroke="#000" stroke-width="2.2"/>
<line x1="877.65" y1="459.60" x2="877.65" y2="455.10" stroke="#000" stroke-width="2.2"/>
<line x1="877.65" y1="0.90" x2="877.65" y2="5.40" stroke="#000" stroke-width="2.2"/>
<line x1="889.98" y1="459.60" x2="889.98" y2="455.10" stroke="#000" stroke-width="2.2"/>
<line x1="889.98" y1="0.90" x2="889.98" y2="5.40" stroke="#000" stroke-width="2.2"/>
<text x="96.60" y="53.85" font-size="19.4" text-anchor="end" font-weight="normal" >7.5</text>
<text x="96.60" y="145.55" font-size="19.4" text-anchor="end" font-weight="normal" >6.5</text>
<text x="96.60" y="237.25" font-size="19.4" text-anchor="end" font-weight="normal" >5.5</text>
<text x="96.60" y="328.95" font-size="19.4" text-anchor="end" font-weight="normal" >4.5</text>
<text x="96.60" y="420.65" font-size="19.4" text-anchor="end" font-weight="normal" >3.5</text>
<text x="177.30" y="485.60" font-size="19.4" text-anchor="middle" font-weight="normal" >10<tspan font-size="13.5" dy="-8.5">4</tspan></text>
<text x="418.20" y="485.60" font-size="19.4" text-anchor="middle" font-weight="normal" >10<tspan font-size="13.5" dy="-8.5">5</tspan></text>
<text x="659.10" y="485.60" font-size="19.4" text-anchor="middle" font-weight="normal" >10<tspan font-size="13.5" dy="-8.5">6</tspan></text>
<text x="900.00" y="485.60" font-size="19.4" text-anchor="middle" font-weight="normal" >10<tspan font-size="13.5" dy="-8.5">7</tspan></text>
<text x="503.60" y="516.20" font-size="19.8" text-anchor="middle" font-weight="normal" ><tspan font-size="13.8" dy="-8.5">10</tspan><tspan dy="8.5">Be concentration (atoms g</tspan><tspan font-size="13.8" dy="-8.5">−1</tspan><tspan dy="8.5">)</tspan></text>
<text x="55.10" y="231.65" font-size="19.8" text-anchor="middle" font-weight="normal" transform="rotate(-90 55.1 231.65)"><tspan font-size="13.8" dy="-8.5">26</tspan><tspan dy="8.5">Al/</tspan><tspan font-size="13.8" dy="-8.5">10</tspan><tspan dy="8.5">Be</tspan></text>
<text x="29.00" y="33.90" font-size="28.5" text-anchor="start" font-weight="bold" >a</text>
<rect x="703.1" y="16.8" width="178.9" height="98.9" fill="#fff" stroke="#000" stroke-width="1.8"/>
<circle cx="721.70" cy="33.70" r="7.35" fill="#8bc36b" stroke="#111" stroke-width="1.85"/>
<text x="740.00" y="39.50" font-size="18.5" text-anchor="start" font-weight="normal" textLength="88.3" lengthAdjust="spacingAndGlyphs" >Upernavik</text>
<circle cx="721.70" cy="55.77" r="7.35" fill="#74b8e9" stroke="#111" stroke-width="1.85"/>
<text x="740.00" y="61.57" font-size="18.5" text-anchor="start" font-weight="normal" textLength="115.4" lengthAdjust="spacingAndGlyphs" >Uummannaq</text>
<circle cx="721.70" cy="77.84" r="7.35" fill="#cd0084" stroke="#111" stroke-width="1.85"/>
<text x="740.00" y="83.64" font-size="18.5" text-anchor="start" font-weight="normal" textLength="48.0" lengthAdjust="spacingAndGlyphs" >Itilleq</text>
<circle cx="721.70" cy="99.91" r="7.35" fill="#fdf02c" stroke="#111" stroke-width="1.85"/>
<text x="740.00" y="105.71" font-size="18.5" text-anchor="start" font-weight="normal" textLength="122.3" lengthAdjust="spacingAndGlyphs" >Sukkertoppen</text>
<line x1="367.00" y1="577.80" x2="446.90" y2="577.80" stroke="#111" stroke-width="1.6"/>
<line x1="367.00" y1="574.60" x2="367.00" y2="581.00" stroke="#111" stroke-width="1.6"/>
<line x1="446.90" y1="574.60" x2="446.90" y2="581.00" stroke="#111" stroke-width="1.6"/>
<line x1="128.80" y1="647.80" x2="253.10" y2="647.80" stroke="#111" stroke-width="1.6"/>
<line x1="128.80" y1="644.60" x2="128.80" y2="651.00" stroke="#111" stroke-width="1.6"/>
<line x1="253.10" y1="644.60" x2="253.10" y2="651.00" stroke="#111" stroke-width="1.6"/>
<line x1="116.60" y1="651.80" x2="273.30" y2="651.80" stroke="#111" stroke-width="1.6"/>
<line x1="116.60" y1="648.60" x2="116.60" y2="655.00" stroke="#111" stroke-width="1.6"/>
<line x1="273.30" y1="648.60" x2="273.30" y2="655.00" stroke="#111" stroke-width="1.6"/>
<line x1="112.80" y1="662.10" x2="236.70" y2="662.10" stroke="#111" stroke-width="1.6"/>
<line x1="112.80" y1="658.90" x2="112.80" y2="665.30" stroke="#111" stroke-width="1.6"/>
<line x1="236.70" y1="658.90" x2="236.70" y2="665.30" stroke="#111" stroke-width="1.6"/>
<line x1="108.50" y1="661.30" x2="204.60" y2="661.30" stroke="#111" stroke-width="1.6"/>
<line x1="108.50" y1="658.10" x2="108.50" y2="664.50" stroke="#111" stroke-width="1.6"/>
<line x1="204.60" y1="658.10" x2="204.60" y2="664.50" stroke="#111" stroke-width="1.6"/>
<line x1="225.70" y1="658.80" x2="374.30" y2="658.80" stroke="#111" stroke-width="1.6"/>
<line x1="225.70" y1="655.60" x2="225.70" y2="662.00" stroke="#111" stroke-width="1.6"/>
<line x1="374.30" y1="655.60" x2="374.30" y2="662.00" stroke="#111" stroke-width="1.6"/>
<line x1="375.40" y1="671.70" x2="410.30" y2="671.70" stroke="#111" stroke-width="1.6"/>
<line x1="375.40" y1="668.50" x2="375.40" y2="674.90" stroke="#111" stroke-width="1.6"/>
<line x1="410.30" y1="668.50" x2="410.30" y2="674.90" stroke="#111" stroke-width="1.6"/>
<line x1="383.90" y1="690.50" x2="410.30" y2="690.50" stroke="#111" stroke-width="1.6"/>
<line x1="383.90" y1="687.30" x2="383.90" y2="693.70" stroke="#111" stroke-width="1.6"/>
<line x1="410.30" y1="687.30" x2="410.30" y2="693.70" stroke="#111" stroke-width="1.6"/>
<line x1="153.00" y1="691.70" x2="337.50" y2="691.70" stroke="#111" stroke-width="1.6"/>
<line x1="153.00" y1="688.50" x2="153.00" y2="694.90" stroke="#111" stroke-width="1.6"/>
<line x1="337.50" y1="688.50" x2="337.50" y2="694.90" stroke="#111" stroke-width="1.6"/>
<line x1="233.70" y1="699.20" x2="374.40" y2="699.20" stroke="#111" stroke-width="1.6"/>
<line x1="233.70" y1="696.00" x2="233.70" y2="702.40" stroke="#111" stroke-width="1.6"/>
<line x1="374.40" y1="696.00" x2="374.40" y2="702.40" stroke="#111" stroke-width="1.6"/>
<line x1="374.40" y1="701.50" x2="446.80" y2="701.50" stroke="#111" stroke-width="1.6"/>
<line x1="374.40" y1="698.30" x2="374.40" y2="704.70" stroke="#111" stroke-width="1.6"/>
<line x1="446.80" y1="698.30" x2="446.80" y2="704.70" stroke="#111" stroke-width="1.6"/>
<line x1="144.90" y1="721.30" x2="309.70" y2="721.30" stroke="#111" stroke-width="1.6"/>
<line x1="144.90" y1="718.10" x2="144.90" y2="724.50" stroke="#111" stroke-width="1.6"/>
<line x1="309.70" y1="718.10" x2="309.70" y2="724.50" stroke="#111" stroke-width="1.6"/>
<line x1="189.40" y1="724.50" x2="358.00" y2="724.50" stroke="#111" stroke-width="1.6"/>
<line x1="189.40" y1="721.30" x2="189.40" y2="727.70" stroke="#111" stroke-width="1.6"/>
<line x1="358.00" y1="721.30" x2="358.00" y2="727.70" stroke="#111" stroke-width="1.6"/>
<line x1="157.20" y1="735.50" x2="329.60" y2="735.50" stroke="#111" stroke-width="1.6"/>
<line x1="157.20" y1="732.30" x2="157.20" y2="738.70" stroke="#111" stroke-width="1.6"/>
<line x1="329.60" y1="732.30" x2="329.60" y2="738.70" stroke="#111" stroke-width="1.6"/>
<line x1="189.40" y1="738.20" x2="358.00" y2="738.20" stroke="#111" stroke-width="1.6"/>
<line x1="189.40" y1="735.00" x2="189.40" y2="741.40" stroke="#111" stroke-width="1.6"/>
<line x1="358.00" y1="735.00" x2="358.00" y2="741.40" stroke="#111" stroke-width="1.6"/>
<line x1="225.70" y1="744.00" x2="382.40" y2="744.00" stroke="#111" stroke-width="1.6"/>
<line x1="225.70" y1="740.80" x2="225.70" y2="747.20" stroke="#111" stroke-width="1.6"/>
<line x1="382.40" y1="740.80" x2="382.40" y2="747.20" stroke="#111" stroke-width="1.6"/>
<line x1="201.60" y1="750.20" x2="382.40" y2="750.20" stroke="#111" stroke-width="1.6"/>
<line x1="201.60" y1="747.00" x2="201.60" y2="753.40" stroke="#111" stroke-width="1.6"/>
<line x1="382.40" y1="747.00" x2="382.40" y2="753.40" stroke="#111" stroke-width="1.6"/>
<line x1="233.70" y1="743.00" x2="402.30" y2="743.00" stroke="#111" stroke-width="1.6"/>
<line x1="233.70" y1="739.80" x2="233.70" y2="746.20" stroke="#111" stroke-width="1.6"/>
<line x1="402.30" y1="739.80" x2="402.30" y2="746.20" stroke="#111" stroke-width="1.6"/>
<line x1="318.60" y1="737.40" x2="393.90" y2="737.40" stroke="#111" stroke-width="1.6"/>
<line x1="318.60" y1="734.20" x2="318.60" y2="740.60" stroke="#111" stroke-width="1.6"/>
<line x1="393.90" y1="734.20" x2="393.90" y2="740.60" stroke="#111" stroke-width="1.6"/>
<line x1="318.60" y1="729.70" x2="402.30" y2="729.70" stroke="#111" stroke-width="1.6"/>
<line x1="318.60" y1="726.50" x2="318.60" y2="732.90" stroke="#111" stroke-width="1.6"/>
<line x1="402.30" y1="726.50" x2="402.30" y2="732.90" stroke="#111" stroke-width="1.6"/>
<line x1="350.00" y1="732.30" x2="435.00" y2="732.30" stroke="#111" stroke-width="1.6"/>
<line x1="350.00" y1="729.10" x2="350.00" y2="735.50" stroke="#111" stroke-width="1.6"/>
<line x1="435.00" y1="729.10" x2="435.00" y2="735.50" stroke="#111" stroke-width="1.6"/>
<line x1="402.00" y1="734.80" x2="446.80" y2="734.80" stroke="#111" stroke-width="1.6"/>
<line x1="402.00" y1="731.60" x2="402.00" y2="738.00" stroke="#111" stroke-width="1.6"/>
<line x1="446.80" y1="731.60" x2="446.80" y2="738.00" stroke="#111" stroke-width="1.6"/>
<line x1="218.00" y1="766.60" x2="366.00" y2="766.60" stroke="#111" stroke-width="1.6"/>
<line x1="218.00" y1="763.40" x2="218.00" y2="769.80" stroke="#111" stroke-width="1.6"/>
<line x1="366.00" y1="763.40" x2="366.00" y2="769.80" stroke="#111" stroke-width="1.6"/>
<line x1="149.20" y1="775.40" x2="309.30" y2="775.40" stroke="#111" stroke-width="1.6"/>
<line x1="149.20" y1="772.20" x2="149.20" y2="778.60" stroke="#111" stroke-width="1.6"/>
<line x1="309.30" y1="772.20" x2="309.30" y2="778.60" stroke="#111" stroke-width="1.6"/>
<line x1="132.60" y1="771.00" x2="305.60" y2="771.00" stroke="#111" stroke-width="1.6"/>
<line x1="132.60" y1="767.80" x2="132.60" y2="774.20" stroke="#111" stroke-width="1.6"/>
<line x1="305.60" y1="767.80" x2="305.60" y2="774.20" stroke="#111" stroke-width="1.6"/>
<line x1="152.90" y1="785.30" x2="329.60" y2="785.30" stroke="#111" stroke-width="1.6"/>
<line x1="152.90" y1="782.10" x2="152.90" y2="788.50" stroke="#111" stroke-width="1.6"/>
<line x1="329.60" y1="782.10" x2="329.60" y2="788.50" stroke="#111" stroke-width="1.6"/>
<line x1="132.60" y1="791.60" x2="265.00" y2="791.60" stroke="#111" stroke-width="1.6"/>
<line x1="132.60" y1="788.40" x2="132.60" y2="794.80" stroke="#111" stroke-width="1.6"/>
<line x1="265.00" y1="788.40" x2="265.00" y2="794.80" stroke="#111" stroke-width="1.6"/>
<line x1="144.90" y1="793.60" x2="317.50" y2="793.60" stroke="#111" stroke-width="1.6"/>
<line x1="144.90" y1="790.40" x2="144.90" y2="796.80" stroke="#111" stroke-width="1.6"/>
<line x1="317.50" y1="790.40" x2="317.50" y2="796.80" stroke="#111" stroke-width="1.6"/>
<line x1="201.60" y1="799.70" x2="374.50" y2="799.70" stroke="#111" stroke-width="1.6"/>
<line x1="201.60" y1="796.50" x2="201.60" y2="802.90" stroke="#111" stroke-width="1.6"/>
<line x1="374.50" y1="796.50" x2="374.50" y2="802.90" stroke="#111" stroke-width="1.6"/>
<line x1="266.00" y1="806.50" x2="373.90" y2="806.50" stroke="#111" stroke-width="1.6"/>
<line x1="266.00" y1="803.30" x2="266.00" y2="809.70" stroke="#111" stroke-width="1.6"/>
<line x1="373.90" y1="803.30" x2="373.90" y2="809.70" stroke="#111" stroke-width="1.6"/>
<line x1="266.20" y1="803.00" x2="386.30" y2="803.00" stroke="#111" stroke-width="1.6"/>
<line x1="266.20" y1="799.80" x2="266.20" y2="806.20" stroke="#111" stroke-width="1.6"/>
<line x1="386.30" y1="799.80" x2="386.30" y2="806.20" stroke="#111" stroke-width="1.6"/>
<line x1="266.20" y1="798.20" x2="422.60" y2="798.20" stroke="#111" stroke-width="1.6"/>
<line x1="266.20" y1="795.00" x2="266.20" y2="801.40" stroke="#111" stroke-width="1.6"/>
<line x1="422.60" y1="795.00" x2="422.60" y2="801.40" stroke="#111" stroke-width="1.6"/>
<line x1="201.60" y1="810.70" x2="366.00" y2="810.70" stroke="#111" stroke-width="1.6"/>
<line x1="201.60" y1="807.50" x2="201.60" y2="813.90" stroke="#111" stroke-width="1.6"/>
<line x1="366.00" y1="807.50" x2="366.00" y2="813.90" stroke="#111" stroke-width="1.6"/>
<line x1="237.80" y1="809.90" x2="374.10" y2="809.90" stroke="#111" stroke-width="1.6"/>
<line x1="237.80" y1="806.70" x2="237.80" y2="813.10" stroke="#111" stroke-width="1.6"/>
<line x1="374.10" y1="806.70" x2="374.10" y2="813.10" stroke="#111" stroke-width="1.6"/>
<line x1="306.80" y1="810.90" x2="442.90" y2="810.90" stroke="#111" stroke-width="1.6"/>
<line x1="306.80" y1="807.70" x2="306.80" y2="814.10" stroke="#111" stroke-width="1.6"/>
<line x1="442.90" y1="807.70" x2="442.90" y2="814.10" stroke="#111" stroke-width="1.6"/>
<line x1="152.80" y1="811.90" x2="306.70" y2="811.90" stroke="#111" stroke-width="1.6"/>
<line x1="152.80" y1="808.70" x2="152.80" y2="815.10" stroke="#111" stroke-width="1.6"/>
<line x1="306.70" y1="808.70" x2="306.70" y2="815.10" stroke="#111" stroke-width="1.6"/>
<line x1="152.80" y1="811.20" x2="201.20" y2="811.20" stroke="#111" stroke-width="1.6"/>
<line x1="152.80" y1="808.00" x2="152.80" y2="814.40" stroke="#111" stroke-width="1.6"/>
<line x1="201.20" y1="808.00" x2="201.20" y2="814.40" stroke="#111" stroke-width="1.6"/>
<line x1="160.00" y1="811.20" x2="237.90" y2="811.20" stroke="#111" stroke-width="1.6"/>
<line x1="160.00" y1="808.00" x2="160.00" y2="814.40" stroke="#111" stroke-width="1.6"/>
<line x1="237.90" y1="808.00" x2="237.90" y2="814.40" stroke="#111" stroke-width="1.6"/>
<line x1="120.80" y1="817.50" x2="237.90" y2="817.50" stroke="#111" stroke-width="1.6"/>
<line x1="120.80" y1="814.30" x2="120.80" y2="820.70" stroke="#111" stroke-width="1.6"/>
<line x1="237.90" y1="814.30" x2="237.90" y2="820.70" stroke="#111" stroke-width="1.6"/>
<line x1="189.30" y1="823.20" x2="334.00" y2="823.20" stroke="#111" stroke-width="1.6"/>
<line x1="189.30" y1="820.00" x2="189.30" y2="826.40" stroke="#111" stroke-width="1.6"/>
<line x1="334.00" y1="820.00" x2="334.00" y2="826.40" stroke="#111" stroke-width="1.6"/>
<line x1="185.80" y1="815.00" x2="334.00" y2="815.00" stroke="#111" stroke-width="1.6"/>
<line x1="185.80" y1="811.80" x2="185.80" y2="818.20" stroke="#111" stroke-width="1.6"/>
<line x1="334.00" y1="811.80" x2="334.00" y2="818.20" stroke="#111" stroke-width="1.6"/>
<line x1="189.30" y1="824.30" x2="374.10" y2="824.30" stroke="#111" stroke-width="1.6"/>
<line x1="189.30" y1="821.10" x2="189.30" y2="827.50" stroke="#111" stroke-width="1.6"/>
<line x1="374.10" y1="821.10" x2="374.10" y2="827.50" stroke="#111" stroke-width="1.6"/>
<line x1="169.20" y1="858.40" x2="366.20" y2="858.40" stroke="#111" stroke-width="1.6"/>
<line x1="169.20" y1="855.20" x2="169.20" y2="861.60" stroke="#111" stroke-width="1.6"/>
<line x1="366.20" y1="855.20" x2="366.20" y2="861.60" stroke="#111" stroke-width="1.6"/>
<line x1="189.30" y1="872.80" x2="357.70" y2="872.80" stroke="#111" stroke-width="1.6"/>
<line x1="189.30" y1="869.60" x2="189.30" y2="876.00" stroke="#111" stroke-width="1.6"/>
<line x1="357.70" y1="869.60" x2="357.70" y2="876.00" stroke="#111" stroke-width="1.6"/>
<line x1="225.60" y1="873.80" x2="422.60" y2="873.80" stroke="#111" stroke-width="1.6"/>
<line x1="225.60" y1="870.60" x2="225.60" y2="877.00" stroke="#111" stroke-width="1.6"/>
<line x1="422.60" y1="870.60" x2="422.60" y2="877.00" stroke="#111" stroke-width="1.6"/>
<line x1="169.20" y1="891.80" x2="366.20" y2="891.80" stroke="#111" stroke-width="1.6"/>
<line x1="169.20" y1="888.60" x2="169.20" y2="895.00" stroke="#111" stroke-width="1.6"/>
<line x1="366.20" y1="888.60" x2="366.20" y2="895.00" stroke="#111" stroke-width="1.6"/>
<line x1="169.20" y1="882.40" x2="357.70" y2="882.40" stroke="#111" stroke-width="1.6"/>
<line x1="169.20" y1="879.20" x2="169.20" y2="885.60" stroke="#111" stroke-width="1.6"/>
<line x1="357.70" y1="879.20" x2="357.70" y2="885.60" stroke="#111" stroke-width="1.6"/>
<line x1="116.70" y1="887.60" x2="281.00" y2="887.60" stroke="#111" stroke-width="1.6"/>
<line x1="116.70" y1="884.40" x2="116.70" y2="890.80" stroke="#111" stroke-width="1.6"/>
<line x1="281.00" y1="884.40" x2="281.00" y2="890.80" stroke="#111" stroke-width="1.6"/>
<line x1="237.90" y1="902.00" x2="426.40" y2="902.00" stroke="#111" stroke-width="1.6"/>
<line x1="237.90" y1="898.80" x2="237.90" y2="905.20" stroke="#111" stroke-width="1.6"/>
<line x1="426.40" y1="898.80" x2="426.40" y2="905.20" stroke="#111" stroke-width="1.6"/>
<line x1="132.70" y1="908.30" x2="293.30" y2="908.30" stroke="#111" stroke-width="1.6"/>
<line x1="132.70" y1="905.10" x2="132.70" y2="911.50" stroke="#111" stroke-width="1.6"/>
<line x1="293.30" y1="905.10" x2="293.30" y2="911.50" stroke="#111" stroke-width="1.6"/>
<line x1="209.30" y1="919.60" x2="382.10" y2="919.60" stroke="#111" stroke-width="1.6"/>
<line x1="209.30" y1="916.40" x2="209.30" y2="922.80" stroke="#111" stroke-width="1.6"/>
<line x1="382.10" y1="916.40" x2="382.10" y2="922.80" stroke="#111" stroke-width="1.6"/>
<line x1="221.40" y1="955.50" x2="382.10" y2="955.50" stroke="#111" stroke-width="1.6"/>
<line x1="221.40" y1="952.30" x2="221.40" y2="958.70" stroke="#111" stroke-width="1.6"/>
<line x1="382.10" y1="952.30" x2="382.10" y2="958.70" stroke="#111" stroke-width="1.6"/>
<circle cx="426.90" cy="577.80" r="7.35" fill="#74b8e9" stroke="#111" stroke-width="1.85"/>
<circle cx="156.50" cy="647.80" r="7.35" fill="#fdf02c" stroke="#111" stroke-width="1.85"/>
<circle cx="152.60" cy="651.80" r="7.35" fill="#fdf02c" stroke="#111" stroke-width="1.85"/>
<circle cx="133.60" cy="662.10" r="7.35" fill="#fdf02c" stroke="#111" stroke-width="1.85"/>
<circle cx="123.80" cy="661.30" r="7.35" fill="#fdf02c" stroke="#111" stroke-width="1.85"/>
<circle cx="286.00" cy="658.80" r="7.35" fill="#fdf02c" stroke="#111" stroke-width="1.85"/>
<circle cx="394.30" cy="671.70" r="7.35" fill="#74b8e9" stroke="#111" stroke-width="1.85"/>
<circle cx="394.30" cy="690.50" r="7.35" fill="#74b8e9" stroke="#111" stroke-width="1.85"/>
<circle cx="241.30" cy="691.70" r="7.35" fill="#fdf02c" stroke="#111" stroke-width="1.85"/>
<circle cx="294.40" cy="699.20" r="7.35" fill="#74b8e9" stroke="#111" stroke-width="1.85"/>
<circle cx="427.70" cy="701.50" r="7.35" fill="#fdf02c" stroke="#111" stroke-width="1.85"/>
<circle cx="225.80" cy="721.30" r="7.35" fill="#74b8e9" stroke="#111" stroke-width="1.85"/>
<circle cx="265.30" cy="724.50" r="7.35" fill="#74b8e9" stroke="#111" stroke-width="1.85"/>
<circle cx="253.30" cy="735.50" r="7.35" fill="#74b8e9" stroke="#111" stroke-width="1.85"/>
<circle cx="274.20" cy="738.20" r="7.35" fill="#fdf02c" stroke="#111" stroke-width="1.85"/>
<circle cx="297.80" cy="744.00" r="7.35" fill="#74b8e9" stroke="#111" stroke-width="1.85"/>
<circle cx="290.00" cy="750.20" r="7.35" fill="#74b8e9" stroke="#111" stroke-width="1.85"/>
<circle cx="321.00" cy="743.00" r="7.35" fill="#74b8e9" stroke="#111" stroke-width="1.85"/>
<circle cx="358.30" cy="737.40" r="7.35" fill="#74b8e9" stroke="#111" stroke-width="1.85"/>
<circle cx="373.90" cy="729.70" r="7.35" fill="#74b8e9" stroke="#111" stroke-width="1.85"/>
<circle cx="386.60" cy="732.30" r="7.35" fill="#74b8e9" stroke="#111" stroke-width="1.85"/>
<circle cx="426.80" cy="734.80" r="7.35" fill="#74b8e9" stroke="#111" stroke-width="1.85"/>
<circle cx="281.10" cy="766.60" r="7.35" fill="#74b8e9" stroke="#111" stroke-width="1.85"/>
<circle cx="230.00" cy="775.40" r="7.35" fill="#fdf02c" stroke="#111" stroke-width="1.85"/>
<circle cx="225.70" cy="771.00" r="7.35" fill="#8bc36b" stroke="#111" stroke-width="1.85"/>
<circle cx="249.50" cy="785.30" r="7.35" fill="#74b8e9" stroke="#111" stroke-width="1.85"/>
<circle cx="169.30" cy="791.60" r="7.35" fill="#8bc36b" stroke="#111" stroke-width="1.85"/>
<circle cx="237.80" cy="793.60" r="7.35" fill="#8bc36b" stroke="#111" stroke-width="1.85"/>
<circle cx="282.80" cy="799.70" r="7.35" fill="#8bc36b" stroke="#111" stroke-width="1.85"/>
<circle cx="327.50" cy="806.50" r="7.35" fill="#cd0084" stroke="#111" stroke-width="1.85"/>
<circle cx="320.00" cy="803.00" r="7.35" fill="#cd0084" stroke="#111" stroke-width="1.85"/>
<circle cx="326.20" cy="798.20" r="7.35" fill="#74b8e9" stroke="#111" stroke-width="1.85"/>
<circle cx="277.50" cy="810.70" r="7.35" fill="#8bc36b" stroke="#111" stroke-width="1.85"/>
<circle cx="294.10" cy="809.90" r="7.35" fill="#cd0084" stroke="#111" stroke-width="1.85"/>
<circle cx="402.30" cy="810.90" r="7.35" fill="#74b8e9" stroke="#111" stroke-width="1.85"/>
<circle cx="219.90" cy="811.90" r="7.35" fill="#74b8e9" stroke="#111" stroke-width="1.85"/>
<circle cx="219.90" cy="811.20" r="7.35" fill="#74b8e9" stroke="#111" stroke-width="1.85"/>
<circle cx="219.90" cy="811.20" r="7.35" fill="#74b8e9" stroke="#111" stroke-width="1.85"/>
<circle cx="168.40" cy="817.50" r="7.35" fill="#8bc36b" stroke="#111" stroke-width="1.85"/>
<circle cx="257.30" cy="823.20" r="7.35" fill="#cd0084" stroke="#111" stroke-width="1.85"/>
<circle cx="258.20" cy="815.00" r="7.35" fill="#8bc36b" stroke="#111" stroke-width="1.85"/>
<circle cx="277.50" cy="824.30" r="7.35" fill="#cd0084" stroke="#111" stroke-width="1.85"/>
<circle cx="105.00" cy="823.40" r="7.35" fill="#8bc36b" stroke="#111" stroke-width="1.85"/>
<circle cx="265.00" cy="858.40" r="7.35" fill="#cd0084" stroke="#111" stroke-width="1.85"/>
<circle cx="275.00" cy="872.80" r="7.35" fill="#8bc36b" stroke="#111" stroke-width="1.85"/>
<circle cx="318.50" cy="873.80" r="7.35" fill="#cd0084" stroke="#111" stroke-width="1.85"/>
<circle cx="265.50" cy="891.80" r="7.35" fill="#cd0084" stroke="#111" stroke-width="1.85"/>
<circle cx="261.10" cy="882.40" r="7.35" fill="#cd0084" stroke="#111" stroke-width="1.85"/>
<circle cx="160.10" cy="887.60" r="7.35" fill="#cd0084" stroke="#111" stroke-width="1.85"/>
<circle cx="338.10" cy="902.00" r="7.35" fill="#cd0084" stroke="#111" stroke-width="1.85"/>
<circle cx="189.30" cy="908.30" r="7.35" fill="#8bc36b" stroke="#111" stroke-width="1.85"/>
<circle cx="290.00" cy="919.60" r="7.35" fill="#8bc36b" stroke="#111" stroke-width="1.85"/>
<circle cx="290.50" cy="955.50" r="7.35" fill="#8bc36b" stroke="#111" stroke-width="1.85"/>
<path d="M92.5,569.5 V974.8 H454.66" fill="none" stroke="#000" stroke-width="2.2"/>
<line x1="92.50" y1="934.27" x2="98.00" y2="934.27" stroke="#000" stroke-width="2.2"/>
<line x1="92.50" y1="893.74" x2="98.00" y2="893.74" stroke="#000" stroke-width="2.2"/>
<line x1="92.50" y1="853.21" x2="98.00" y2="853.21" stroke="#000" stroke-width="2.2"/>
<line x1="92.50" y1="812.68" x2="98.00" y2="812.68" stroke="#000" stroke-width="2.2"/>
<line x1="92.50" y1="772.15" x2="98.00" y2="772.15" stroke="#000" stroke-width="2.2"/>
<line x1="92.50" y1="731.62" x2="98.00" y2="731.62" stroke="#000" stroke-width="2.2"/>
<line x1="92.50" y1="691.09" x2="98.00" y2="691.09" stroke="#000" stroke-width="2.2"/>
<line x1="92.50" y1="650.56" x2="98.00" y2="650.56" stroke="#000" stroke-width="2.2"/>
<line x1="92.50" y1="610.03" x2="98.00" y2="610.03" stroke="#000" stroke-width="2.2"/>
<line x1="92.50" y1="569.50" x2="98.00" y2="569.50" stroke="#000" stroke-width="2.2"/>
<line x1="132.74" y1="974.80" x2="132.74" y2="969.30" stroke="#000" stroke-width="2.2"/>
<line x1="172.98" y1="974.80" x2="172.98" y2="969.30" stroke="#000" stroke-width="2.2"/>
<line x1="213.22" y1="974.80" x2="213.22" y2="969.30" stroke="#000" stroke-width="2.2"/>
<line x1="253.46" y1="974.80" x2="253.46" y2="969.30" stroke="#000" stroke-width="2.2"/>
<line x1="293.70" y1="974.80" x2="293.70" y2="969.30" stroke="#000" stroke-width="2.2"/>
<line x1="333.94" y1="974.80" x2="333.94" y2="969.30" stroke="#000" stroke-width="2.2"/>
<line x1="374.18" y1="974.80" x2="374.18" y2="969.30" stroke="#000" stroke-width="2.2"/>
<line x1="414.42" y1="974.80" x2="414.42" y2="969.30" stroke="#000" stroke-width="2.2"/>
<line x1="454.66" y1="974.80" x2="454.66" y2="969.30" stroke="#000" stroke-width="2.2"/>
<text x="83.10" y="616.83" font-size="19.4" text-anchor="end" font-weight="normal" >1,800</text>
<text x="83.10" y="697.89" font-size="19.4" text-anchor="end" font-weight="normal" >1,400</text>
<text x="83.10" y="778.95" font-size="19.4" text-anchor="end" font-weight="normal" >1,000</text>
<text x="83.10" y="860.01" font-size="19.4" text-anchor="end" font-weight="normal" >600</text>
<text x="83.10" y="941.07" font-size="19.4" text-anchor="end" font-weight="normal" >200</text>
<text x="133.04" y="998.70" font-size="19.4" text-anchor="middle" font-weight="normal" >20</text>
<text x="213.52" y="998.70" font-size="19.4" text-anchor="middle" font-weight="normal" >40</text>
<text x="294.00" y="998.70" font-size="19.4" text-anchor="middle" font-weight="normal" >60</text>
<text x="374.48" y="998.70" font-size="19.4" text-anchor="middle" font-weight="normal" >80</text>
<text x="454.96" y="998.70" font-size="19.4" text-anchor="middle" font-weight="normal" >100</text>
<text x="273.30" y="1028.30" font-size="19.8" text-anchor="middle" font-weight="normal" >Proportion of cumulative</text>
<text x="274.20" y="1049.90" font-size="19.8" text-anchor="middle" font-weight="normal" >exposure over 1 Myr (%)</text>
<text x="16.90" y="773.10" font-size="19.8" text-anchor="middle" font-weight="normal" transform="rotate(-90 16.9 773.1)">Altitude (m a.s.l.)</text>
<text x="0.60" y="587.00" font-size="28.5" text-anchor="start" font-weight="bold" >b</text>
<line x1="566.6" y1="695.30" x2="925" y2="695.30" stroke="#000" stroke-width="1.5" stroke-dasharray="5.7 9.6"/>
<line x1="877" y1="571.1" x2="877" y2="974.7" stroke="#000" stroke-width="1.5" stroke-dasharray="5.7 9.6"/>
<line x1="875.80" y1="634.10" x2="920.60" y2="634.10" stroke="#111" stroke-width="1.6"/>
<line x1="875.80" y1="630.90" x2="875.80" y2="637.30" stroke="#111" stroke-width="1.6"/>
<line x1="920.60" y1="630.90" x2="920.60" y2="637.30" stroke="#111" stroke-width="1.6"/>
<line x1="901.40" y1="585.20" x2="901.40" y2="690.00" stroke="#111" stroke-width="1.6"/>
<line x1="898.20" y1="585.20" x2="904.60" y2="585.20" stroke="#111" stroke-width="1.6"/>
<line x1="898.20" y1="690.00" x2="904.60" y2="690.00" stroke="#111" stroke-width="1.6"/>
<line x1="848.20" y1="634.10" x2="920.60" y2="634.10" stroke="#111" stroke-width="1.6"/>
<line x1="848.20" y1="630.90" x2="848.20" y2="637.30" stroke="#111" stroke-width="1.6"/>
<line x1="920.60" y1="630.90" x2="920.60" y2="637.30" stroke="#111" stroke-width="1.6"/>
<line x1="901.40" y1="603.40" x2="901.40" y2="667.30" stroke="#111" stroke-width="1.6"/>
<line x1="898.20" y1="603.40" x2="904.60" y2="603.40" stroke="#111" stroke-width="1.6"/>
<line x1="898.20" y1="667.30" x2="904.60" y2="667.30" stroke="#111" stroke-width="1.6"/>
<line x1="780.60" y1="649.80" x2="916.70" y2="649.80" stroke="#111" stroke-width="1.6"/>
<line x1="780.60" y1="646.60" x2="780.60" y2="653.00" stroke="#111" stroke-width="1.6"/>
<line x1="916.70" y1="646.60" x2="916.70" y2="653.00" stroke="#111" stroke-width="1.6"/>
<line x1="876.90" y1="585.20" x2="876.90" y2="714.40" stroke="#111" stroke-width="1.6"/>
<line x1="873.70" y1="585.20" x2="880.10" y2="585.20" stroke="#111" stroke-width="1.6"/>
<line x1="873.70" y1="714.40" x2="880.10" y2="714.40" stroke="#111" stroke-width="1.6"/>
<line x1="840.80" y1="680.10" x2="920.70" y2="680.10" stroke="#111" stroke-width="1.6"/>
<line x1="840.80" y1="676.90" x2="840.80" y2="683.30" stroke="#111" stroke-width="1.6"/>
<line x1="920.70" y1="676.90" x2="920.70" y2="683.30" stroke="#111" stroke-width="1.6"/>
<line x1="901.40" y1="627.00" x2="901.40" y2="733.40" stroke="#111" stroke-width="1.6"/>
<line x1="898.20" y1="627.00" x2="904.60" y2="627.00" stroke="#111" stroke-width="1.6"/>
<line x1="898.20" y1="733.40" x2="904.60" y2="733.40" stroke="#111" stroke-width="1.6"/>
<line x1="707.60" y1="691.10" x2="896.40" y2="691.10" stroke="#111" stroke-width="1.6"/>
<line x1="707.60" y1="687.90" x2="707.60" y2="694.30" stroke="#111" stroke-width="1.6"/>
<line x1="896.40" y1="687.90" x2="896.40" y2="694.30" stroke="#111" stroke-width="1.6"/>
<line x1="799.90" y1="649.40" x2="799.90" y2="735.00" stroke="#111" stroke-width="1.6"/>
<line x1="796.70" y1="649.40" x2="803.10" y2="649.40" stroke="#111" stroke-width="1.6"/>
<line x1="796.70" y1="735.00" x2="803.10" y2="735.00" stroke="#111" stroke-width="1.6"/>
<line x1="711.80" y1="698.20" x2="900.20" y2="698.20" stroke="#111" stroke-width="1.6"/>
<line x1="711.80" y1="695.00" x2="711.80" y2="701.40" stroke="#111" stroke-width="1.6"/>
<line x1="900.20" y1="695.00" x2="900.20" y2="701.40" stroke="#111" stroke-width="1.6"/>
<line x1="812.80" y1="659.00" x2="812.80" y2="737.80" stroke="#111" stroke-width="1.6"/>
<line x1="809.60" y1="659.00" x2="816.00" y2="659.00" stroke="#111" stroke-width="1.6"/>
<line x1="809.60" y1="737.80" x2="816.00" y2="737.80" stroke="#111" stroke-width="1.6"/>
<line x1="748.20" y1="703.40" x2="908.50" y2="703.40" stroke="#111" stroke-width="1.6"/>
<line x1="748.20" y1="700.20" x2="748.20" y2="706.60" stroke="#111" stroke-width="1.6"/>
<line x1="908.50" y1="700.20" x2="908.50" y2="706.60" stroke="#111" stroke-width="1.6"/>
<line x1="861.20" y1="662.30" x2="861.20" y2="742.30" stroke="#111" stroke-width="1.6"/>
<line x1="858.00" y1="662.30" x2="864.40" y2="662.30" stroke="#111" stroke-width="1.6"/>
<line x1="858.00" y1="742.30" x2="864.40" y2="742.30" stroke="#111" stroke-width="1.6"/>
<line x1="707.50" y1="709.60" x2="896.30" y2="709.60" stroke="#111" stroke-width="1.6"/>
<line x1="707.50" y1="706.40" x2="707.50" y2="712.80" stroke="#111" stroke-width="1.6"/>
<line x1="896.30" y1="706.40" x2="896.30" y2="712.80" stroke="#111" stroke-width="1.6"/>
<line x1="798.40" y1="665.80" x2="798.40" y2="752.00" stroke="#111" stroke-width="1.6"/>
<line x1="795.20" y1="665.80" x2="801.60" y2="665.80" stroke="#111" stroke-width="1.6"/>
<line x1="795.20" y1="752.00" x2="801.60" y2="752.00" stroke="#111" stroke-width="1.6"/>
<line x1="700.00" y1="710.80" x2="896.30" y2="710.80" stroke="#111" stroke-width="1.6"/>
<line x1="700.00" y1="707.60" x2="700.00" y2="714.00" stroke="#111" stroke-width="1.6"/>
<line x1="896.30" y1="707.60" x2="896.30" y2="714.00" stroke="#111" stroke-width="1.6"/>
<line x1="792.80" y1="673.40" x2="792.80" y2="748.00" stroke="#111" stroke-width="1.6"/>
<line x1="789.60" y1="673.40" x2="796.00" y2="673.40" stroke="#111" stroke-width="1.6"/>
<line x1="789.60" y1="748.00" x2="796.00" y2="748.00" stroke="#111" stroke-width="1.6"/>
<line x1="675.60" y1="718.90" x2="856.20" y2="718.90" stroke="#111" stroke-width="1.6"/>
<line x1="675.60" y1="715.70" x2="675.60" y2="722.10" stroke="#111" stroke-width="1.6"/>
<line x1="856.20" y1="715.70" x2="856.20" y2="722.10" stroke="#111" stroke-width="1.6"/>
<line x1="763.90" y1="697.10" x2="763.90" y2="740.00" stroke="#111" stroke-width="1.6"/>
<line x1="760.70" y1="697.10" x2="767.10" y2="697.10" stroke="#111" stroke-width="1.6"/>
<line x1="760.70" y1="740.00" x2="767.10" y2="740.00" stroke="#111" stroke-width="1.6"/>
<line x1="700.00" y1="718.90" x2="856.20" y2="718.90" stroke="#111" stroke-width="1.6"/>
<line x1="700.00" y1="715.70" x2="700.00" y2="722.10" stroke="#111" stroke-width="1.6"/>
<line x1="856.20" y1="715.70" x2="856.20" y2="722.10" stroke="#111" stroke-width="1.6"/>
<line x1="772.90" y1="682.70" x2="772.90" y2="755.00" stroke="#111" stroke-width="1.6"/>
<line x1="769.70" y1="682.70" x2="776.10" y2="682.70" stroke="#111" stroke-width="1.6"/>
<line x1="769.70" y1="755.00" x2="776.10" y2="755.00" stroke="#111" stroke-width="1.6"/>
<line x1="857.70" y1="730.10" x2="884.10" y2="730.10" stroke="#111" stroke-width="1.6"/>
<line x1="857.70" y1="726.90" x2="857.70" y2="733.30" stroke="#111" stroke-width="1.6"/>
<line x1="884.10" y1="726.90" x2="884.10" y2="733.30" stroke="#111" stroke-width="1.6"/>
<line x1="868.80" y1="712.00" x2="868.80" y2="755.00" stroke="#111" stroke-width="1.6"/>
<line x1="865.60" y1="712.00" x2="872.00" y2="712.00" stroke="#111" stroke-width="1.6"/>
<line x1="865.60" y1="755.00" x2="872.00" y2="755.00" stroke="#111" stroke-width="1.6"/>
<line x1="849.30" y1="730.10" x2="884.10" y2="730.10" stroke="#111" stroke-width="1.6"/>
<line x1="849.30" y1="726.90" x2="849.30" y2="733.30" stroke="#111" stroke-width="1.6"/>
<line x1="884.10" y1="726.90" x2="884.10" y2="733.30" stroke="#111" stroke-width="1.6"/>
<line x1="868.80" y1="706.80" x2="868.80" y2="752.50" stroke="#111" stroke-width="1.6"/>
<line x1="865.60" y1="706.80" x2="872.00" y2="706.80" stroke="#111" stroke-width="1.6"/>
<line x1="865.60" y1="752.50" x2="872.00" y2="752.50" stroke="#111" stroke-width="1.6"/>
<line x1="792.40" y1="732.30" x2="867.70" y2="732.30" stroke="#111" stroke-width="1.6"/>
<line x1="792.40" y1="729.10" x2="792.40" y2="735.50" stroke="#111" stroke-width="1.6"/>
<line x1="867.70" y1="729.10" x2="867.70" y2="735.50" stroke="#111" stroke-width="1.6"/>
<line x1="832.70" y1="699.20" x2="832.70" y2="763.50" stroke="#111" stroke-width="1.6"/>
<line x1="829.50" y1="699.20" x2="835.90" y2="699.20" stroke="#111" stroke-width="1.6"/>
<line x1="829.50" y1="763.50" x2="835.90" y2="763.50" stroke="#111" stroke-width="1.6"/>
<line x1="643.50" y1="731.00" x2="840.00" y2="731.00" stroke="#111" stroke-width="1.6"/>
<line x1="643.50" y1="727.80" x2="643.50" y2="734.20" stroke="#111" stroke-width="1.6"/>
<line x1="840.00" y1="727.80" x2="840.00" y2="734.20" stroke="#111" stroke-width="1.6"/>
<line x1="739.40" y1="699.60" x2="739.40" y2="762.00" stroke="#111" stroke-width="1.6"/>
<line x1="736.20" y1="699.60" x2="742.60" y2="699.60" stroke="#111" stroke-width="1.6"/>
<line x1="736.20" y1="762.00" x2="742.60" y2="762.00" stroke="#111" stroke-width="1.6"/>
<line x1="692.00" y1="742.90" x2="840.00" y2="742.90" stroke="#111" stroke-width="1.6"/>
<line x1="692.00" y1="739.70" x2="692.00" y2="746.10" stroke="#111" stroke-width="1.6"/>
<line x1="840.00" y1="739.70" x2="840.00" y2="746.10" stroke="#111" stroke-width="1.6"/>
<line x1="757.70" y1="720.00" x2="757.70" y2="765.00" stroke="#111" stroke-width="1.6"/>
<line x1="754.50" y1="720.00" x2="760.90" y2="720.00" stroke="#111" stroke-width="1.6"/>
<line x1="754.50" y1="765.00" x2="760.90" y2="765.00" stroke="#111" stroke-width="1.6"/>
<line x1="663.10" y1="739.50" x2="848.00" y2="739.50" stroke="#111" stroke-width="1.6"/>
<line x1="663.10" y1="736.30" x2="663.10" y2="742.70" stroke="#111" stroke-width="1.6"/>
<line x1="848.00" y1="736.30" x2="848.00" y2="742.70" stroke="#111" stroke-width="1.6"/>
<line x1="756.00" y1="712.00" x2="756.00" y2="767.00" stroke="#111" stroke-width="1.6"/>
<line x1="752.80" y1="712.00" x2="759.20" y2="712.00" stroke="#111" stroke-width="1.6"/>
<line x1="752.80" y1="767.00" x2="759.20" y2="767.00" stroke="#111" stroke-width="1.6"/>
<line x1="683.00" y1="740.80" x2="856.00" y2="740.80" stroke="#111" stroke-width="1.6"/>
<line x1="683.00" y1="737.60" x2="683.00" y2="744.00" stroke="#111" stroke-width="1.6"/>
<line x1="856.00" y1="737.60" x2="856.00" y2="744.00" stroke="#111" stroke-width="1.6"/>
<line x1="765.80" y1="715.00" x2="765.80" y2="766.00" stroke="#111" stroke-width="1.6"/>
<line x1="762.60" y1="715.00" x2="769.00" y2="715.00" stroke="#111" stroke-width="1.6"/>
<line x1="762.60" y1="766.00" x2="769.00" y2="766.00" stroke="#111" stroke-width="1.6"/>
<line x1="663.20" y1="740.00" x2="831.80" y2="740.00" stroke="#111" stroke-width="1.6"/>
<line x1="663.20" y1="736.80" x2="663.20" y2="743.20" stroke="#111" stroke-width="1.6"/>
<line x1="831.80" y1="736.80" x2="831.80" y2="743.20" stroke="#111" stroke-width="1.6"/>
<line x1="748.40" y1="712.00" x2="748.40" y2="768.00" stroke="#111" stroke-width="1.6"/>
<line x1="745.20" y1="712.00" x2="751.60" y2="712.00" stroke="#111" stroke-width="1.6"/>
<line x1="745.20" y1="768.00" x2="751.60" y2="768.00" stroke="#111" stroke-width="1.6"/>
<line x1="635.30" y1="750.50" x2="840.00" y2="750.50" stroke="#111" stroke-width="1.6"/>
<line x1="635.30" y1="747.30" x2="635.30" y2="753.70" stroke="#111" stroke-width="1.6"/>
<line x1="840.00" y1="747.30" x2="840.00" y2="753.70" stroke="#111" stroke-width="1.6"/>
<line x1="741.60" y1="725.00" x2="741.60" y2="776.00" stroke="#111" stroke-width="1.6"/>
<line x1="738.40" y1="725.00" x2="744.80" y2="725.00" stroke="#111" stroke-width="1.6"/>
<line x1="738.40" y1="776.00" x2="744.80" y2="776.00" stroke="#111" stroke-width="1.6"/>
<line x1="643.70" y1="753.90" x2="831.50" y2="753.90" stroke="#111" stroke-width="1.6"/>
<line x1="643.70" y1="750.70" x2="643.70" y2="757.10" stroke="#111" stroke-width="1.6"/>
<line x1="831.50" y1="750.70" x2="831.50" y2="757.10" stroke="#111" stroke-width="1.6"/>
<line x1="736.50" y1="728.00" x2="736.50" y2="780.00" stroke="#111" stroke-width="1.6"/>
<line x1="733.30" y1="728.00" x2="739.70" y2="728.00" stroke="#111" stroke-width="1.6"/>
<line x1="733.30" y1="780.00" x2="739.70" y2="780.00" stroke="#111" stroke-width="1.6"/>
<line x1="675.50" y1="752.70" x2="848.30" y2="752.70" stroke="#111" stroke-width="1.6"/>
<line x1="675.50" y1="749.50" x2="675.50" y2="755.90" stroke="#111" stroke-width="1.6"/>
<line x1="848.30" y1="749.50" x2="848.30" y2="755.90" stroke="#111" stroke-width="1.6"/>
<line x1="756.00" y1="728.00" x2="756.00" y2="778.00" stroke="#111" stroke-width="1.6"/>
<line x1="752.80" y1="728.00" x2="759.20" y2="728.00" stroke="#111" stroke-width="1.6"/>
<line x1="752.80" y1="778.00" x2="759.20" y2="778.00" stroke="#111" stroke-width="1.6"/>
<line x1="707.50" y1="761.50" x2="848.20" y2="761.50" stroke="#111" stroke-width="1.6"/>
<line x1="707.50" y1="758.30" x2="707.50" y2="764.70" stroke="#111" stroke-width="1.6"/>
<line x1="848.20" y1="758.30" x2="848.20" y2="764.70" stroke="#111" stroke-width="1.6"/>
<line x1="768.60" y1="740.00" x2="768.60" y2="783.00" stroke="#111" stroke-width="1.6"/>
<line x1="765.40" y1="740.00" x2="771.80" y2="740.00" stroke="#111" stroke-width="1.6"/>
<line x1="765.40" y1="783.00" x2="771.80" y2="783.00" stroke="#111" stroke-width="1.6"/>
<line x1="627.00" y1="758.10" x2="803.40" y2="758.10" stroke="#111" stroke-width="1.6"/>
<line x1="627.00" y1="754.90" x2="627.00" y2="761.30" stroke="#111" stroke-width="1.6"/>
<line x1="803.40" y1="754.90" x2="803.40" y2="761.30" stroke="#111" stroke-width="1.6"/>
<line x1="723.80" y1="738.00" x2="723.80" y2="778.00" stroke="#111" stroke-width="1.6"/>
<line x1="720.60" y1="738.00" x2="727.00" y2="738.00" stroke="#111" stroke-width="1.6"/>
<line x1="720.60" y1="778.00" x2="727.00" y2="778.00" stroke="#111" stroke-width="1.6"/>
<line x1="663.10" y1="769.90" x2="807.60" y2="769.90" stroke="#111" stroke-width="1.6"/>
<line x1="663.10" y1="766.70" x2="663.10" y2="773.10" stroke="#111" stroke-width="1.6"/>
<line x1="807.60" y1="766.70" x2="807.60" y2="773.10" stroke="#111" stroke-width="1.6"/>
<line x1="733.60" y1="748.00" x2="733.60" y2="792.00" stroke="#111" stroke-width="1.6"/>
<line x1="730.40" y1="748.00" x2="736.80" y2="748.00" stroke="#111" stroke-width="1.6"/>
<line x1="730.40" y1="792.00" x2="736.80" y2="792.00" stroke="#111" stroke-width="1.6"/>
<line x1="626.80" y1="764.90" x2="811.30" y2="764.90" stroke="#111" stroke-width="1.6"/>
<line x1="626.80" y1="761.70" x2="626.80" y2="768.10" stroke="#111" stroke-width="1.6"/>
<line x1="811.30" y1="761.70" x2="811.30" y2="768.10" stroke="#111" stroke-width="1.6"/>
<line x1="714.20" y1="745.00" x2="714.20" y2="785.00" stroke="#111" stroke-width="1.6"/>
<line x1="711.00" y1="745.00" x2="717.40" y2="745.00" stroke="#111" stroke-width="1.6"/>
<line x1="711.00" y1="785.00" x2="717.40" y2="785.00" stroke="#111" stroke-width="1.6"/>
<line x1="631.00" y1="765.70" x2="803.40" y2="765.70" stroke="#111" stroke-width="1.6"/>
<line x1="631.00" y1="762.50" x2="631.00" y2="768.90" stroke="#111" stroke-width="1.6"/>
<line x1="803.40" y1="762.50" x2="803.40" y2="768.90" stroke="#111" stroke-width="1.6"/>
<line x1="727.50" y1="745.00" x2="727.50" y2="786.00" stroke="#111" stroke-width="1.6"/>
<line x1="724.30" y1="745.00" x2="730.70" y2="745.00" stroke="#111" stroke-width="1.6"/>
<line x1="724.30" y1="786.00" x2="730.70" y2="786.00" stroke="#111" stroke-width="1.6"/>
<line x1="659.60" y1="763.20" x2="831.80" y2="763.20" stroke="#111" stroke-width="1.6"/>
<line x1="659.60" y1="760.00" x2="659.60" y2="766.40" stroke="#111" stroke-width="1.6"/>
<line x1="831.80" y1="760.00" x2="831.80" y2="766.40" stroke="#111" stroke-width="1.6"/>
<line x1="739.90" y1="742.00" x2="739.90" y2="784.00" stroke="#111" stroke-width="1.6"/>
<line x1="736.70" y1="742.00" x2="743.10" y2="742.00" stroke="#111" stroke-width="1.6"/>
<line x1="736.70" y1="784.00" x2="743.10" y2="784.00" stroke="#111" stroke-width="1.6"/>
<line x1="675.80" y1="771.30" x2="831.50" y2="771.30" stroke="#111" stroke-width="1.6"/>
<line x1="675.80" y1="768.10" x2="675.80" y2="774.50" stroke="#111" stroke-width="1.6"/>
<line x1="831.50" y1="768.10" x2="831.50" y2="774.50" stroke="#111" stroke-width="1.6"/>
<line x1="750.50" y1="750.00" x2="750.50" y2="792.00" stroke="#111" stroke-width="1.6"/>
<line x1="747.30" y1="750.00" x2="753.70" y2="750.00" stroke="#111" stroke-width="1.6"/>
<line x1="747.30" y1="792.00" x2="753.70" y2="792.00" stroke="#111" stroke-width="1.6"/>
<line x1="699.50" y1="777.20" x2="848.10" y2="777.20" stroke="#111" stroke-width="1.6"/>
<line x1="699.50" y1="774.00" x2="699.50" y2="780.40" stroke="#111" stroke-width="1.6"/>
<line x1="848.10" y1="774.00" x2="848.10" y2="780.40" stroke="#111" stroke-width="1.6"/>
<line x1="759.30" y1="757.00" x2="759.30" y2="797.00" stroke="#111" stroke-width="1.6"/>
<line x1="756.10" y1="757.00" x2="762.50" y2="757.00" stroke="#111" stroke-width="1.6"/>
<line x1="756.10" y1="797.00" x2="762.50" y2="797.00" stroke="#111" stroke-width="1.6"/>
<line x1="711.60" y1="784.30" x2="847.90" y2="784.30" stroke="#111" stroke-width="1.6"/>
<line x1="711.60" y1="781.10" x2="711.60" y2="787.50" stroke="#111" stroke-width="1.6"/>
<line x1="847.90" y1="781.10" x2="847.90" y2="787.50" stroke="#111" stroke-width="1.6"/>
<line x1="767.80" y1="762.00" x2="767.80" y2="806.90" stroke="#111" stroke-width="1.6"/>
<line x1="764.60" y1="762.00" x2="771.00" y2="762.00" stroke="#111" stroke-width="1.6"/>
<line x1="764.60" y1="806.90" x2="771.00" y2="806.90" stroke="#111" stroke-width="1.6"/>
<line x1="740.00" y1="776.40" x2="847.70" y2="776.40" stroke="#111" stroke-width="1.6"/>
<line x1="740.00" y1="773.20" x2="740.00" y2="779.60" stroke="#111" stroke-width="1.6"/>
<line x1="847.70" y1="773.20" x2="847.70" y2="779.60" stroke="#111" stroke-width="1.6"/>
<line x1="796.20" y1="755.00" x2="796.20" y2="797.00" stroke="#111" stroke-width="1.6"/>
<line x1="793.00" y1="755.00" x2="799.40" y2="755.00" stroke="#111" stroke-width="1.6"/>
<line x1="793.00" y1="797.00" x2="799.40" y2="797.00" stroke="#111" stroke-width="1.6"/>
<line x1="699.40" y1="789.40" x2="860.50" y2="789.40" stroke="#111" stroke-width="1.6"/>
<line x1="699.40" y1="786.20" x2="699.40" y2="792.60" stroke="#111" stroke-width="1.6"/>
<line x1="860.50" y1="786.20" x2="860.50" y2="792.60" stroke="#111" stroke-width="1.6"/>
<line x1="792.50" y1="768.00" x2="792.50" y2="812.00" stroke="#111" stroke-width="1.6"/>
<line x1="789.30" y1="768.00" x2="795.70" y2="768.00" stroke="#111" stroke-width="1.6"/>
<line x1="789.30" y1="812.00" x2="795.70" y2="812.00" stroke="#111" stroke-width="1.6"/>
<line x1="792.40" y1="775.30" x2="876.90" y2="775.30" stroke="#111" stroke-width="1.6"/>
<line x1="792.40" y1="772.10" x2="792.40" y2="778.50" stroke="#111" stroke-width="1.6"/>
<line x1="876.90" y1="772.10" x2="876.90" y2="778.50" stroke="#111" stroke-width="1.6"/>
<line x1="848.50" y1="759.20" x2="848.50" y2="789.70" stroke="#111" stroke-width="1.6"/>
<line x1="845.30" y1="759.20" x2="851.70" y2="759.20" stroke="#111" stroke-width="1.6"/>
<line x1="845.30" y1="789.70" x2="851.70" y2="789.70" stroke="#111" stroke-width="1.6"/>
<line x1="618.70" y1="792.80" x2="783.50" y2="792.80" stroke="#111" stroke-width="1.6"/>
<line x1="618.70" y1="789.60" x2="618.70" y2="796.00" stroke="#111" stroke-width="1.6"/>
<line x1="783.50" y1="789.60" x2="783.50" y2="796.00" stroke="#111" stroke-width="1.6"/>
<line x1="699.80" y1="772.00" x2="699.80" y2="812.00" stroke="#111" stroke-width="1.6"/>
<line x1="696.60" y1="772.00" x2="703.00" y2="772.00" stroke="#111" stroke-width="1.6"/>
<line x1="696.60" y1="812.00" x2="703.00" y2="812.00" stroke="#111" stroke-width="1.6"/>
<line x1="626.70" y1="802.90" x2="780.30" y2="802.90" stroke="#111" stroke-width="1.6"/>
<line x1="626.70" y1="799.70" x2="626.70" y2="806.10" stroke="#111" stroke-width="1.6"/>
<line x1="780.30" y1="799.70" x2="780.30" y2="806.10" stroke="#111" stroke-width="1.6"/>
<line x1="696.40" y1="782.00" x2="696.40" y2="822.00" stroke="#111" stroke-width="1.6"/>
<line x1="693.20" y1="782.00" x2="699.60" y2="782.00" stroke="#111" stroke-width="1.6"/>
<line x1="693.20" y1="822.00" x2="699.60" y2="822.00" stroke="#111" stroke-width="1.6"/>
<line x1="618.70" y1="802.10" x2="771.20" y2="802.10" stroke="#111" stroke-width="1.6"/>
<line x1="618.70" y1="798.90" x2="618.70" y2="805.30" stroke="#111" stroke-width="1.6"/>
<line x1="771.20" y1="798.90" x2="771.20" y2="805.30" stroke="#111" stroke-width="1.6"/>
<line x1="712.00" y1="782.00" x2="712.00" y2="822.00" stroke="#111" stroke-width="1.6"/>
<line x1="708.80" y1="782.00" x2="715.20" y2="782.00" stroke="#111" stroke-width="1.6"/>
<line x1="708.80" y1="822.00" x2="715.20" y2="822.00" stroke="#111" stroke-width="1.6"/>
<line x1="659.30" y1="811.60" x2="807.90" y2="811.60" stroke="#111" stroke-width="1.6"/>
<line x1="659.30" y1="808.40" x2="659.30" y2="814.80" stroke="#111" stroke-width="1.6"/>
<line x1="807.90" y1="808.40" x2="807.90" y2="814.80" stroke="#111" stroke-width="1.6"/>
<line x1="731.40" y1="790.00" x2="731.40" y2="832.00" stroke="#111" stroke-width="1.6"/>
<line x1="728.20" y1="790.00" x2="734.60" y2="790.00" stroke="#111" stroke-width="1.6"/>
<line x1="728.20" y1="832.00" x2="734.60" y2="832.00" stroke="#111" stroke-width="1.6"/>
<line x1="606.40" y1="822.30" x2="779.40" y2="822.30" stroke="#111" stroke-width="1.6"/>
<line x1="606.40" y1="819.10" x2="606.40" y2="825.50" stroke="#111" stroke-width="1.6"/>
<line x1="779.40" y1="819.10" x2="779.40" y2="825.50" stroke="#111" stroke-width="1.6"/>
<line x1="699.30" y1="800.00" x2="699.30" y2="842.00" stroke="#111" stroke-width="1.6"/>
<line x1="696.10" y1="800.00" x2="702.50" y2="800.00" stroke="#111" stroke-width="1.6"/>
<line x1="696.10" y1="842.00" x2="702.50" y2="842.00" stroke="#111" stroke-width="1.6"/>
<line x1="623.00" y1="831.60" x2="783.10" y2="831.60" stroke="#111" stroke-width="1.6"/>
<line x1="623.00" y1="828.40" x2="623.00" y2="834.80" stroke="#111" stroke-width="1.6"/>
<line x1="783.10" y1="828.40" x2="783.10" y2="834.80" stroke="#111" stroke-width="1.6"/>
<line x1="703.10" y1="812.00" x2="703.10" y2="853.40" stroke="#111" stroke-width="1.6"/>
<line x1="699.90" y1="812.00" x2="706.30" y2="812.00" stroke="#111" stroke-width="1.6"/>
<line x1="699.90" y1="853.40" x2="706.30" y2="853.40" stroke="#111" stroke-width="1.6"/>
<line x1="602.60" y1="820.90" x2="726.90" y2="820.90" stroke="#111" stroke-width="1.6"/>
<line x1="602.60" y1="817.70" x2="602.60" y2="824.10" stroke="#111" stroke-width="1.6"/>
<line x1="726.90" y1="817.70" x2="726.90" y2="824.10" stroke="#111" stroke-width="1.6"/>
<line x1="628.40" y1="800.00" x2="628.40" y2="842.00" stroke="#111" stroke-width="1.6"/>
<line x1="625.20" y1="800.00" x2="631.60" y2="800.00" stroke="#111" stroke-width="1.6"/>
<line x1="625.20" y1="842.00" x2="631.60" y2="842.00" stroke="#111" stroke-width="1.6"/>
<line x1="590.40" y1="810.40" x2="747.10" y2="810.40" stroke="#111" stroke-width="1.6"/>
<line x1="590.40" y1="807.20" x2="590.40" y2="813.60" stroke="#111" stroke-width="1.6"/>
<line x1="747.10" y1="807.20" x2="747.10" y2="813.60" stroke="#111" stroke-width="1.6"/>
<line x1="626.70" y1="795.50" x2="626.70" y2="828.00" stroke="#111" stroke-width="1.6"/>
<line x1="623.50" y1="795.50" x2="629.90" y2="795.50" stroke="#111" stroke-width="1.6"/>
<line x1="623.50" y1="828.00" x2="629.90" y2="828.00" stroke="#111" stroke-width="1.6"/>
<line x1="582.30" y1="837.00" x2="678.40" y2="837.00" stroke="#111" stroke-width="1.6"/>
<line x1="582.30" y1="833.80" x2="582.30" y2="840.20" stroke="#111" stroke-width="1.6"/>
<line x1="678.40" y1="833.80" x2="678.40" y2="840.20" stroke="#111" stroke-width="1.6"/>
<line x1="598.40" y1="808.00" x2="598.40" y2="866.60" stroke="#111" stroke-width="1.6"/>
<line x1="595.20" y1="808.00" x2="601.60" y2="808.00" stroke="#111" stroke-width="1.6"/>
<line x1="595.20" y1="866.60" x2="601.60" y2="866.60" stroke="#111" stroke-width="1.6"/>
<line x1="586.60" y1="825.10" x2="710.50" y2="825.10" stroke="#111" stroke-width="1.6"/>
<line x1="586.60" y1="821.90" x2="586.60" y2="828.30" stroke="#111" stroke-width="1.6"/>
<line x1="710.50" y1="821.90" x2="710.50" y2="828.30" stroke="#111" stroke-width="1.6"/>
<line x1="606.90" y1="812.40" x2="606.90" y2="845.40" stroke="#111" stroke-width="1.6"/>
<line x1="603.70" y1="812.40" x2="610.10" y2="812.40" stroke="#111" stroke-width="1.6"/>
<line x1="603.70" y1="845.40" x2="610.10" y2="845.40" stroke="#111" stroke-width="1.6"/>
<line x1="590.50" y1="823.90" x2="754.80" y2="823.90" stroke="#111" stroke-width="1.6"/>
<line x1="590.50" y1="820.70" x2="590.50" y2="827.10" stroke="#111" stroke-width="1.6"/>
<line x1="754.80" y1="820.70" x2="754.80" y2="827.10" stroke="#111" stroke-width="1.6"/>
<line x1="633.90" y1="797.20" x2="633.90" y2="853.00" stroke="#111" stroke-width="1.6"/>
<line x1="630.70" y1="797.20" x2="637.10" y2="797.20" stroke="#111" stroke-width="1.6"/>
<line x1="630.70" y1="853.00" x2="637.10" y2="853.00" stroke="#111" stroke-width="1.6"/>
<line x1="594.60" y1="832.70" x2="675.40" y2="832.70" stroke="#111" stroke-width="1.6"/>
<line x1="594.60" y1="829.50" x2="594.60" y2="835.90" stroke="#111" stroke-width="1.6"/>
<line x1="675.40" y1="829.50" x2="675.40" y2="835.90" stroke="#111" stroke-width="1.6"/>
<line x1="642.70" y1="812.80" x2="642.70" y2="852.70" stroke="#111" stroke-width="1.6"/>
<line x1="639.50" y1="812.80" x2="645.90" y2="812.80" stroke="#111" stroke-width="1.6"/>
<line x1="639.50" y1="852.70" x2="645.90" y2="852.70" stroke="#111" stroke-width="1.6"/>
<line x1="606.50" y1="842.90" x2="767.10" y2="842.90" stroke="#111" stroke-width="1.6"/>
<line x1="606.50" y1="839.70" x2="606.50" y2="846.10" stroke="#111" stroke-width="1.6"/>
<line x1="767.10" y1="839.70" x2="767.10" y2="846.10" stroke="#111" stroke-width="1.6"/>
<line x1="663.00" y1="824.30" x2="663.00" y2="862.30" stroke="#111" stroke-width="1.6"/>
<line x1="659.80" y1="824.30" x2="666.20" y2="824.30" stroke="#111" stroke-width="1.6"/>
<line x1="659.80" y1="862.30" x2="666.20" y2="862.30" stroke="#111" stroke-width="1.6"/>
<line x1="595.40" y1="862.80" x2="763.50" y2="862.80" stroke="#111" stroke-width="1.6"/>
<line x1="595.40" y1="859.60" x2="595.40" y2="866.00" stroke="#111" stroke-width="1.6"/>
<line x1="763.50" y1="859.60" x2="763.50" y2="866.00" stroke="#111" stroke-width="1.6"/>
<line x1="642.70" y1="845.00" x2="642.70" y2="882.60" stroke="#111" stroke-width="1.6"/>
<line x1="639.50" y1="845.00" x2="645.90" y2="845.00" stroke="#111" stroke-width="1.6"/>
<line x1="639.50" y1="882.60" x2="645.90" y2="882.60" stroke="#111" stroke-width="1.6"/>
<line x1="578.30" y1="924.50" x2="578.30" y2="964.30" stroke="#111" stroke-width="1.6"/>
<line x1="575.10" y1="924.50" x2="581.50" y2="924.50" stroke="#111" stroke-width="1.6"/>
<line x1="575.10" y1="964.30" x2="581.50" y2="964.30" stroke="#111" stroke-width="1.6"/>
<circle cx="901.40" cy="635.80" r="7.35" fill="#74b8e9" stroke="#111" stroke-width="1.85"/>
<circle cx="901.40" cy="634.10" r="7.35" fill="#fdf02c" stroke="#111" stroke-width="1.85"/>
<circle cx="876.90" cy="649.80" r="7.35" fill="#74b8e9" stroke="#111" stroke-width="1.85"/>
<circle cx="901.40" cy="680.10" r="7.35" fill="#74b8e9" stroke="#111" stroke-width="1.85"/>
<circle cx="799.90" cy="691.10" r="7.35" fill="#74b8e9" stroke="#111" stroke-width="1.85"/>
<circle cx="812.80" cy="698.20" r="7.35" fill="#cd0084" stroke="#111" stroke-width="1.85"/>
<circle cx="861.20" cy="703.40" r="7.35" fill="#74b8e9" stroke="#111" stroke-width="1.85"/>
<circle cx="798.40" cy="709.60" r="7.35" fill="#74b8e9" stroke="#111" stroke-width="1.85"/>
<circle cx="792.80" cy="710.80" r="7.35" fill="#cd0084" stroke="#111" stroke-width="1.85"/>
<circle cx="763.90" cy="718.90" r="7.35" fill="#74b8e9" stroke="#111" stroke-width="1.85"/>
<circle cx="772.90" cy="718.90" r="7.35" fill="#74b8e9" stroke="#111" stroke-width="1.85"/>
<circle cx="868.80" cy="730.10" r="7.35" fill="#74b8e9" stroke="#111" stroke-width="1.85"/>
<circle cx="868.80" cy="730.10" r="7.35" fill="#74b8e9" stroke="#111" stroke-width="1.85"/>
<circle cx="832.70" cy="732.30" r="7.35" fill="#74b8e9" stroke="#111" stroke-width="1.85"/>
<circle cx="739.40" cy="731.00" r="7.35" fill="#cd0084" stroke="#111" stroke-width="1.85"/>
<circle cx="757.70" cy="742.90" r="7.35" fill="#74b8e9" stroke="#111" stroke-width="1.85"/>
<circle cx="756.00" cy="739.50" r="7.35" fill="#cd0084" stroke="#111" stroke-width="1.85"/>
<circle cx="765.80" cy="740.80" r="7.35" fill="#8bc36b" stroke="#111" stroke-width="1.85"/>
<circle cx="748.40" cy="740.00" r="7.35" fill="#fdf02c" stroke="#111" stroke-width="1.85"/>
<circle cx="741.60" cy="750.50" r="7.35" fill="#cd0084" stroke="#111" stroke-width="1.85"/>
<circle cx="736.50" cy="753.90" r="7.35" fill="#cd0084" stroke="#111" stroke-width="1.85"/>
<circle cx="756.00" cy="752.70" r="7.35" fill="#8bc36b" stroke="#111" stroke-width="1.85"/>
<circle cx="768.60" cy="761.50" r="7.35" fill="#74b8e9" stroke="#111" stroke-width="1.85"/>
<circle cx="723.80" cy="758.10" r="7.35" fill="#74b8e9" stroke="#111" stroke-width="1.85"/>
<circle cx="733.60" cy="769.90" r="7.35" fill="#cd0084" stroke="#111" stroke-width="1.85"/>
<circle cx="714.20" cy="764.90" r="7.35" fill="#fdf02c" stroke="#111" stroke-width="1.85"/>
<circle cx="727.50" cy="765.70" r="7.35" fill="#74b8e9" stroke="#111" stroke-width="1.85"/>
<circle cx="739.90" cy="763.20" r="7.35" fill="#74b8e9" stroke="#111" stroke-width="1.85"/>
<circle cx="750.50" cy="771.30" r="7.35" fill="#8bc36b" stroke="#111" stroke-width="1.85"/>
<circle cx="759.30" cy="777.20" r="7.35" fill="#fdf02c" stroke="#111" stroke-width="1.85"/>
<circle cx="767.80" cy="784.30" r="7.35" fill="#cd0084" stroke="#111" stroke-width="1.85"/>
<circle cx="796.20" cy="776.40" r="7.35" fill="#cd0084" stroke="#111" stroke-width="1.85"/>
<circle cx="792.50" cy="789.40" r="7.35" fill="#cd0084" stroke="#111" stroke-width="1.85"/>
<circle cx="848.50" cy="775.30" r="7.35" fill="#74b8e9" stroke="#111" stroke-width="1.85"/>
<circle cx="699.80" cy="792.80" r="7.35" fill="#74b8e9" stroke="#111" stroke-width="1.85"/>
<circle cx="696.40" cy="802.90" r="7.35" fill="#74b8e9" stroke="#111" stroke-width="1.85"/>
<circle cx="712.00" cy="802.10" r="7.35" fill="#8bc36b" stroke="#111" stroke-width="1.85"/>
<circle cx="731.40" cy="811.60" r="7.35" fill="#8bc36b" stroke="#111" stroke-width="1.85"/>
<circle cx="699.30" cy="822.30" r="7.35" fill="#8bc36b" stroke="#111" stroke-width="1.85"/>
<circle cx="703.10" cy="831.60" r="7.35" fill="#fdf02c" stroke="#111" stroke-width="1.85"/>
<circle cx="628.40" cy="820.90" r="7.35" fill="#fdf02c" stroke="#111" stroke-width="1.85"/>
<circle cx="626.70" cy="810.40" r="7.35" fill="#fdf02c" stroke="#111" stroke-width="1.85"/>
<circle cx="598.40" cy="837.00" r="7.35" fill="#fdf02c" stroke="#111" stroke-width="1.85"/>
<circle cx="606.90" cy="825.10" r="7.35" fill="#fdf02c" stroke="#111" stroke-width="1.85"/>
<circle cx="633.90" cy="823.90" r="7.35" fill="#cd0084" stroke="#111" stroke-width="1.85"/>
<circle cx="642.70" cy="832.70" r="7.35" fill="#8bc36b" stroke="#111" stroke-width="1.85"/>
<circle cx="663.00" cy="842.90" r="7.35" fill="#8bc36b" stroke="#111" stroke-width="1.85"/>
<circle cx="642.70" cy="862.80" r="7.35" fill="#8bc36b" stroke="#111" stroke-width="1.85"/>
<circle cx="578.30" cy="944.80" r="7.35" fill="#8bc36b" stroke="#111" stroke-width="1.85"/>
<path d="M566.5,568.30 V974.7 H929.47" fill="none" stroke="#000" stroke-width="2.2"/>
<line x1="566.50" y1="923.90" x2="572.00" y2="923.90" stroke="#000" stroke-width="2.2"/>
<line x1="566.50" y1="873.10" x2="572.00" y2="873.10" stroke="#000" stroke-width="2.2"/>
<line x1="566.50" y1="822.30" x2="572.00" y2="822.30" stroke="#000" stroke-width="2.2"/>
<line x1="566.50" y1="771.50" x2="572.00" y2="771.50" stroke="#000" stroke-width="2.2"/>
<line x1="566.50" y1="720.70" x2="572.00" y2="720.70" stroke="#000" stroke-width="2.2"/>
<line x1="566.50" y1="669.90" x2="572.00" y2="669.90" stroke="#000" stroke-width="2.2"/>
<line x1="566.50" y1="619.10" x2="572.00" y2="619.10" stroke="#000" stroke-width="2.2"/>
<line x1="566.50" y1="568.30" x2="572.00" y2="568.30" stroke="#000" stroke-width="2.2"/>
<line x1="606.83" y1="974.70" x2="606.83" y2="969.20" stroke="#000" stroke-width="2.2"/>
<line x1="647.16" y1="974.70" x2="647.16" y2="969.20" stroke="#000" stroke-width="2.2"/>
<line x1="687.49" y1="974.70" x2="687.49" y2="969.20" stroke="#000" stroke-width="2.2"/>
<line x1="727.82" y1="974.70" x2="727.82" y2="969.20" stroke="#000" stroke-width="2.2"/>
<line x1="768.15" y1="974.70" x2="768.15" y2="969.20" stroke="#000" stroke-width="2.2"/>
<line x1="808.48" y1="974.70" x2="808.48" y2="969.20" stroke="#000" stroke-width="2.2"/>
<line x1="848.81" y1="974.70" x2="848.81" y2="969.20" stroke="#000" stroke-width="2.2"/>
<line x1="889.14" y1="974.70" x2="889.14" y2="969.20" stroke="#000" stroke-width="2.2"/>
<line x1="929.47" y1="974.70" x2="929.47" y2="969.20" stroke="#000" stroke-width="2.2"/>
<text x="556.80" y="625.80" font-size="19.4" text-anchor="end" font-weight="normal" >7.5</text>
<text x="556.80" y="727.40" font-size="19.4" text-anchor="end" font-weight="normal" >6.5</text>
<text x="556.80" y="829.00" font-size="19.4" text-anchor="end" font-weight="normal" >5.5</text>
<text x="556.80" y="930.60" font-size="19.4" text-anchor="end" font-weight="normal" >4.5</text>
<text x="607.13" y="998.70" font-size="19.4" text-anchor="middle" font-weight="normal" >20</text>
<text x="687.79" y="998.70" font-size="19.4" text-anchor="middle" font-weight="normal" >40</text>
<text x="768.45" y="998.70" font-size="19.4" text-anchor="middle" font-weight="normal" >60</text>
<text x="849.11" y="998.70" font-size="19.4" text-anchor="middle" font-weight="normal" >80</text>
<text x="929.77" y="998.70" font-size="19.4" text-anchor="middle" font-weight="normal" >100</text>
<text x="747.50" y="1028.30" font-size="19.8" text-anchor="middle" font-weight="normal" >Proportion of cumulative</text>
<text x="747.50" y="1049.90" font-size="19.8" text-anchor="middle" font-weight="normal" >exposure over 1 Myr (%)</text>
<text x="515.90" y="772.10" font-size="19.8" text-anchor="middle" font-weight="normal" transform="rotate(-90 515.9 772.1)"><tspan font-size="13.8" dy="-8.5">26</tspan><tspan dy="8.5">Al/</tspan><tspan font-size="13.8" dy="-8.5">10</tspan><tspan dy="8.5">Be</tspan></text>
<text x="489.60" y="587.00" font-size="28.5" text-anchor="start" font-weight="bold" >c</text>
</svg></body></html>
